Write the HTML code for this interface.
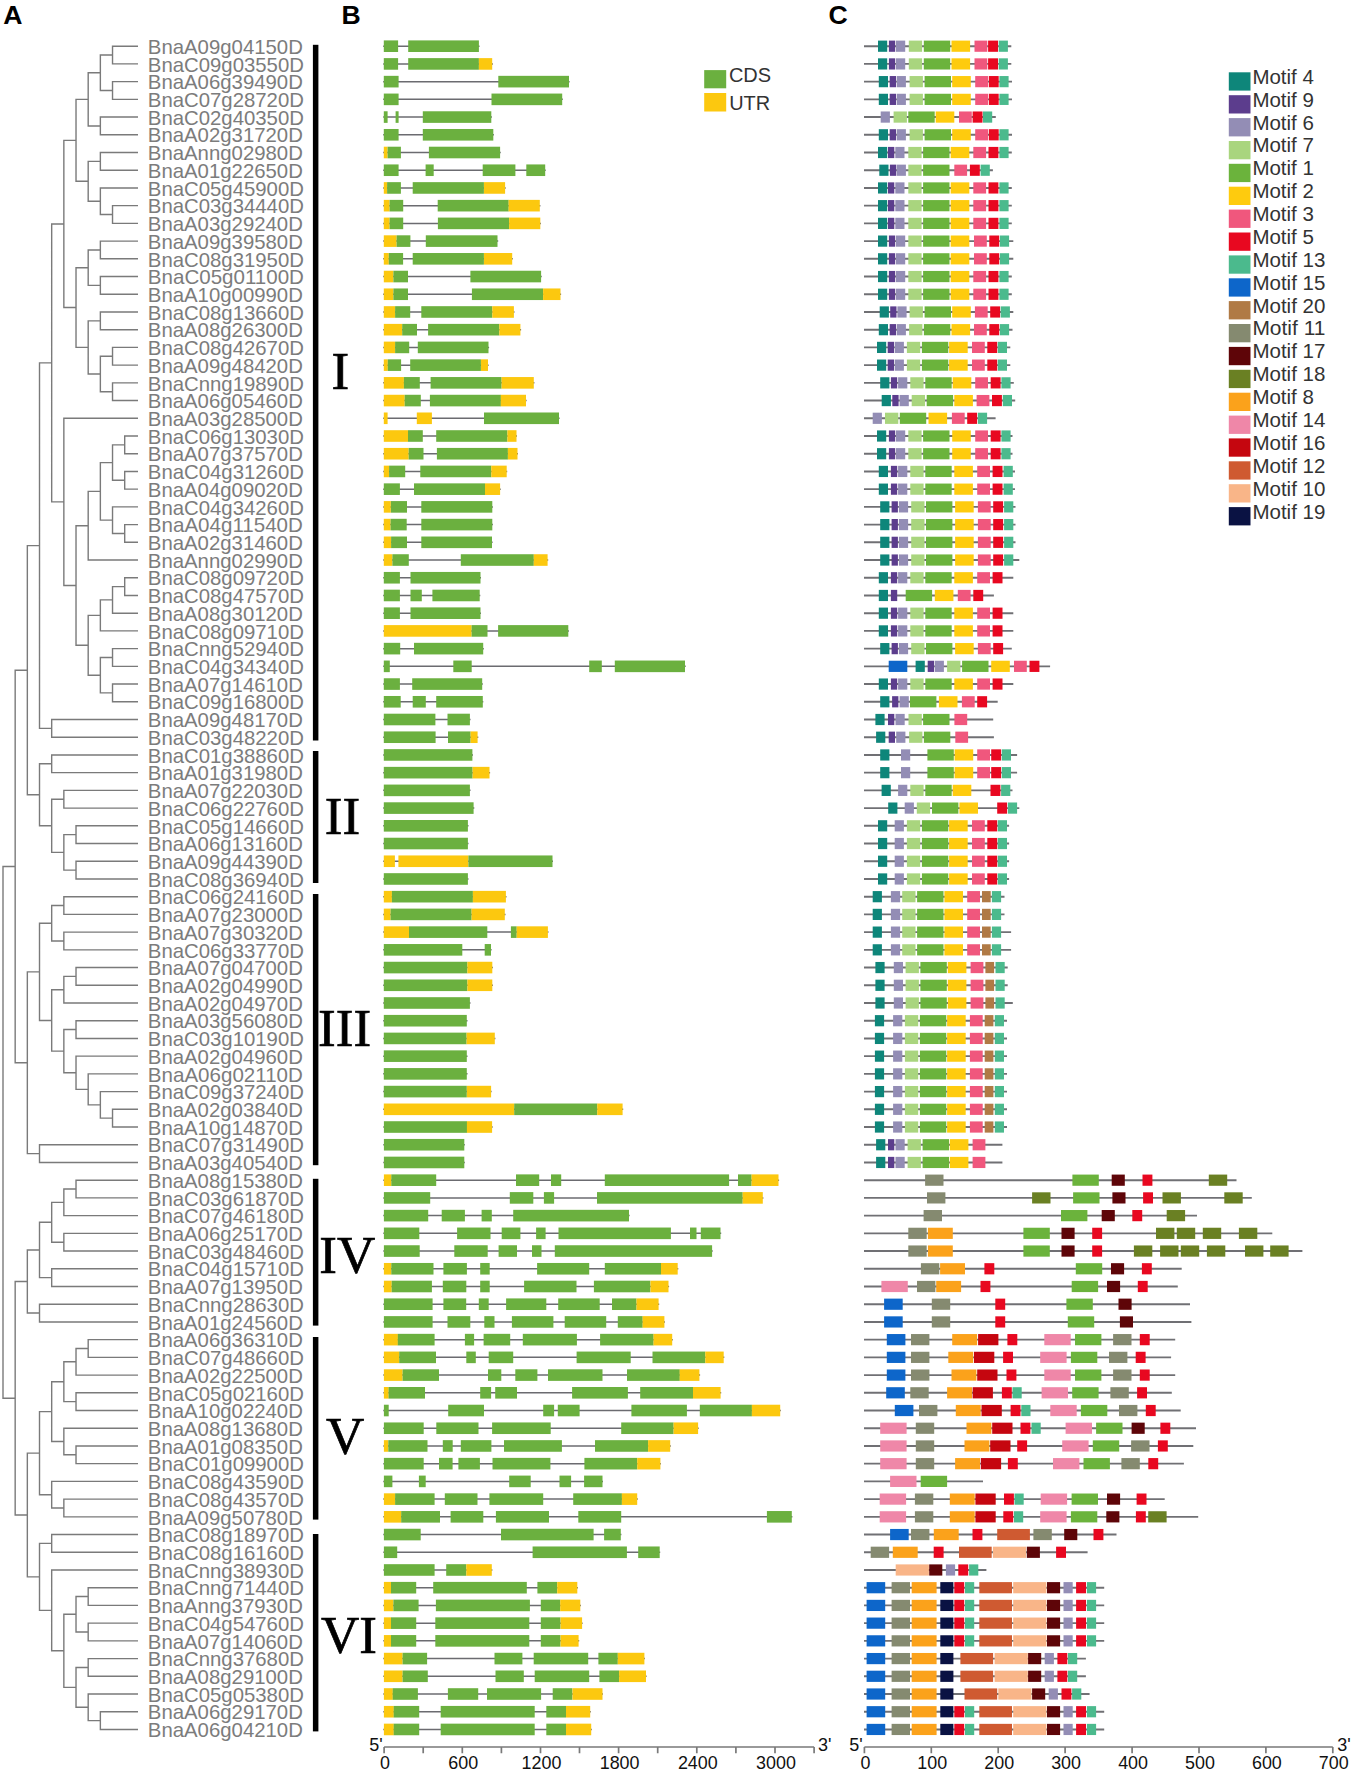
<!DOCTYPE html>
<html lang="en"><head><meta charset="utf-8"><title>Phylogeny, gene structure and motifs</title>
<style>html,body{margin:0;padding:0;background:#fff}svg{display:block}text{font-family:"Liberation Sans",Arial,Helvetica,sans-serif}.ser text{font-family:"Liberation Serif","Times New Roman",serif}</style></head><body>
<svg width="1351" height="1772" viewBox="0 0 1351 1772">
<rect width="1351" height="1772" fill="#fff"/>
<text x="3.3" y="23.8" font-size="26.6" font-weight="bold" fill="#000">A</text>
<text x="341.6" y="23.8" font-size="26.6" font-weight="bold" fill="#000">B</text>
<text x="828.5" y="23.8" font-size="26.6" font-weight="bold" fill="#000">C</text>
<path d="M112.53 46.20H137.30M112.53 63.92H137.30M112.53 46.20V63.92M100.36 55.06H112.53M112.53 81.64H137.30M112.53 99.36H137.30M112.53 81.64V99.36M100.36 90.50H112.53M100.36 55.06V90.50M88.19 72.78H100.36M100.36 117.07H137.30M100.36 134.79H137.30M100.36 117.07V134.79M88.19 125.93H100.36M88.19 72.78V125.93M76.02 99.36H88.19M100.36 152.51H137.30M100.36 170.23H137.30M100.36 152.51V170.23M88.19 161.37H100.36M100.36 187.95H137.30M112.53 205.67H137.30M112.53 223.38H137.30M112.53 205.67V223.38M100.36 214.53H112.53M100.36 187.95V214.53M88.19 201.24H100.36M88.19 161.37V201.24M76.02 181.30H88.19M76.02 99.36V181.30M63.85 140.33H76.02M100.36 241.10H137.30M100.36 258.82H137.30M100.36 241.10V258.82M88.19 249.96H100.36M100.36 276.54H137.30M100.36 294.26H137.30M100.36 276.54V294.26M88.19 285.40H100.36M88.19 249.96V285.40M76.02 267.68H88.19M100.36 311.98H137.30M100.36 329.69H137.30M100.36 311.98V329.69M88.19 320.84H100.36M112.53 347.41H137.30M112.53 365.13H137.30M112.53 347.41V365.13M100.36 356.27H112.53M112.53 382.85H137.30M112.53 400.57H137.30M112.53 382.85V400.57M100.36 391.71H112.53M100.36 356.27V391.71M88.19 373.99H100.36M88.19 320.84V373.99M76.02 347.41H88.19M76.02 267.68V347.41M63.85 307.55H76.02M63.85 140.33V307.55M51.68 223.94H63.85M63.85 418.29H137.30M124.70 436.01H137.30M124.70 453.72H137.30M124.70 436.01V453.72M112.53 444.86H124.70M124.70 471.44H137.30M124.70 489.16H137.30M124.70 471.44V489.16M112.53 480.30H124.70M112.53 444.86V480.30M100.36 462.58H112.53M112.53 506.88H137.30M124.70 524.60H137.30M124.70 542.32H137.30M124.70 524.60V542.32M112.53 533.46H124.70M112.53 506.88V533.46M100.36 520.17H112.53M100.36 462.58V520.17M88.19 491.38H100.36M88.19 560.03H137.30M88.19 491.38V560.03M76.02 525.70H88.19M124.70 577.75H137.30M124.70 595.47H137.30M124.70 577.75V595.47M112.53 586.61H124.70M112.53 613.19H137.30M112.53 586.61V613.19M100.36 599.90H112.53M100.36 630.91H137.30M100.36 599.90V630.91M88.19 615.40H100.36M112.53 648.63H137.30M112.53 666.34H137.30M112.53 648.63V666.34M100.36 657.49H112.53M112.53 684.06H137.30M112.53 701.78H137.30M112.53 684.06V701.78M100.36 692.92H112.53M100.36 657.49V692.92M88.19 675.20H100.36M88.19 615.40V675.20M76.02 645.30H88.19M76.02 525.70V645.30M63.85 585.50H76.02M63.85 418.29V585.50M51.68 501.90H63.85M51.68 223.94V501.90M39.51 362.92H51.68M51.68 719.50H137.30M51.68 737.22H137.30M51.68 719.50V737.22M39.51 728.36H51.68M39.51 362.92V728.36M27.34 545.64H39.51M51.68 754.94H137.30M51.68 772.66H137.30M51.68 754.94V772.66M39.51 763.80H51.68M63.85 790.37H137.30M63.85 808.09H137.30M63.85 790.37V808.09M51.68 799.23H63.85M76.02 825.81H137.30M76.02 843.53H137.30M76.02 825.81V843.53M63.85 834.67H76.02M76.02 861.25H137.30M76.02 878.97H137.30M76.02 861.25V878.97M63.85 870.11H76.02M63.85 834.67V870.11M51.68 852.39H63.85M51.68 799.23V852.39M39.51 825.81H51.68M39.51 763.80V825.81M27.34 794.80H39.51M27.34 545.64V794.80M15.17 670.22H27.34M63.85 896.68H137.30M63.85 914.40H137.30M63.85 896.68V914.40M51.68 905.54H63.85M63.85 932.12H137.30M63.85 949.84H137.30M63.85 932.12V949.84M51.68 940.98H63.85M51.68 905.54V940.98M39.51 923.26H51.68M76.02 967.56H137.30M76.02 985.28H137.30M76.02 967.56V985.28M63.85 976.42H76.02M63.85 1002.99H137.30M63.85 976.42V1002.99M51.68 989.71H63.85M76.02 1020.71H137.30M76.02 1038.43H137.30M76.02 1020.71V1038.43M63.85 1029.57H76.02M76.02 1056.15H137.30M88.19 1073.87H137.30M100.36 1091.59H137.30M112.53 1109.31H137.30M112.53 1127.02H137.30M112.53 1109.31V1127.02M100.36 1118.16H112.53M100.36 1091.59V1118.16M88.19 1104.88H100.36M88.19 1073.87V1104.88M76.02 1089.37H88.19M76.02 1056.15V1089.37M63.85 1072.76H76.02M63.85 1029.57V1072.76M51.68 1051.17H63.85M51.68 989.71V1051.17M39.51 1020.44H51.68M39.51 923.26V1020.44M27.34 971.85H39.51M39.51 1144.74H137.30M39.51 1162.46H137.30M39.51 1144.74V1162.46M27.34 1153.60H39.51M27.34 971.85V1153.60M15.17 1062.73H27.34M15.17 670.22V1062.73M3.00 866.47H15.17M76.02 1180.18H137.30M76.02 1197.90H137.30M76.02 1180.18V1197.90M63.85 1189.04H76.02M63.85 1215.62H137.30M63.85 1189.04V1215.62M51.68 1202.33H63.85M63.85 1233.33H137.30M63.85 1251.05H137.30M63.85 1233.33V1251.05M51.68 1242.19H63.85M51.68 1202.33V1242.19M39.51 1222.26H51.68M51.68 1268.77H137.30M51.68 1286.49H137.30M51.68 1268.77V1286.49M39.51 1277.63H51.68M39.51 1222.26V1277.63M27.34 1249.95H39.51M39.51 1304.21H137.30M39.51 1321.93H137.30M39.51 1304.21V1321.93M27.34 1313.07H39.51M27.34 1249.95V1313.07M15.17 1281.51H27.34M88.19 1339.64H137.30M88.19 1357.36H137.30M88.19 1339.64V1357.36M76.02 1348.50H88.19M76.02 1375.08H137.30M76.02 1348.50V1375.08M63.85 1361.79H76.02M76.02 1392.80H137.30M76.02 1410.52H137.30M76.02 1392.80V1410.52M63.85 1401.66H76.02M63.85 1361.79V1401.66M51.68 1381.73H63.85M63.85 1428.24H137.30M76.02 1445.96H137.30M76.02 1463.67H137.30M76.02 1445.96V1463.67M63.85 1454.81H76.02M63.85 1428.24V1454.81M51.68 1441.53H63.85M51.68 1381.73V1441.53M39.51 1411.63H51.68M51.68 1481.39H137.30M63.85 1499.11H137.30M63.85 1516.83H137.30M63.85 1499.11V1516.83M51.68 1507.97H63.85M51.68 1481.39V1507.97M39.51 1494.68H51.68M39.51 1411.63V1494.68M27.34 1453.15H39.51M51.68 1534.55H137.30M51.68 1552.27H137.30M51.68 1534.55V1552.27M39.51 1543.41H51.68M51.68 1569.98H137.30M88.19 1587.70H137.30M88.19 1605.42H137.30M88.19 1587.70V1605.42M76.02 1596.56H88.19M88.19 1623.14H137.30M88.19 1640.86H137.30M88.19 1623.14V1640.86M76.02 1632.00H88.19M76.02 1596.56V1632.00M63.85 1614.28H76.02M88.19 1658.58H137.30M88.19 1676.29H137.30M88.19 1658.58V1676.29M76.02 1667.44H88.19M88.19 1694.01H137.30M100.36 1711.73H137.30M100.36 1729.45H137.30M100.36 1711.73V1729.45M88.19 1720.59H100.36M88.19 1694.01V1720.59M76.02 1707.30H88.19M76.02 1667.44V1707.30M63.85 1687.37H76.02M63.85 1614.28V1687.37M51.68 1650.82H63.85M51.68 1569.98V1650.82M39.51 1610.40H51.68M39.51 1543.41V1610.40M27.34 1576.91H39.51M27.34 1453.15V1576.91M15.17 1515.03H27.34M15.17 1281.51V1515.03M3.00 1398.27H15.17M3.00 866.47V1398.27" fill="none" stroke="#7a7a7a" stroke-width="1.4" stroke-linecap="square"/>
<g font-size="20.2" fill="#7c7c7c">
<text x="147.85" y="53.90" textLength="155.0" lengthAdjust="spacingAndGlyphs">BnaA09g04150D</text>
<text x="147.85" y="71.62" textLength="156.1" lengthAdjust="spacingAndGlyphs">BnaC09g03550D</text>
<text x="147.85" y="89.34" textLength="155.0" lengthAdjust="spacingAndGlyphs">BnaA06g39490D</text>
<text x="147.85" y="107.06" textLength="156.1" lengthAdjust="spacingAndGlyphs">BnaC07g28720D</text>
<text x="147.85" y="124.77" textLength="156.1" lengthAdjust="spacingAndGlyphs">BnaC02g40350D</text>
<text x="147.85" y="142.49" textLength="155.0" lengthAdjust="spacingAndGlyphs">BnaA02g31720D</text>
<text x="147.85" y="160.21" textLength="155.0" lengthAdjust="spacingAndGlyphs">BnaAnng02980D</text>
<text x="147.85" y="177.93" textLength="155.0" lengthAdjust="spacingAndGlyphs">BnaA01g22650D</text>
<text x="147.85" y="195.65" textLength="156.1" lengthAdjust="spacingAndGlyphs">BnaC05g45900D</text>
<text x="147.85" y="213.37" textLength="156.1" lengthAdjust="spacingAndGlyphs">BnaC03g34440D</text>
<text x="147.85" y="231.08" textLength="155.0" lengthAdjust="spacingAndGlyphs">BnaA03g29240D</text>
<text x="147.85" y="248.80" textLength="155.0" lengthAdjust="spacingAndGlyphs">BnaA09g39580D</text>
<text x="147.85" y="266.52" textLength="156.1" lengthAdjust="spacingAndGlyphs">BnaC08g31950D</text>
<text x="147.85" y="284.24" textLength="156.1" lengthAdjust="spacingAndGlyphs">BnaC05g01100D</text>
<text x="147.85" y="301.96" textLength="155.0" lengthAdjust="spacingAndGlyphs">BnaA10g00990D</text>
<text x="147.85" y="319.68" textLength="156.1" lengthAdjust="spacingAndGlyphs">BnaC08g13660D</text>
<text x="147.85" y="337.39" textLength="155.0" lengthAdjust="spacingAndGlyphs">BnaA08g26300D</text>
<text x="147.85" y="355.11" textLength="156.1" lengthAdjust="spacingAndGlyphs">BnaC08g42670D</text>
<text x="147.85" y="372.83" textLength="155.0" lengthAdjust="spacingAndGlyphs">BnaA09g48420D</text>
<text x="147.85" y="390.55" textLength="156.1" lengthAdjust="spacingAndGlyphs">BnaCnng19890D</text>
<text x="147.85" y="408.27" textLength="155.0" lengthAdjust="spacingAndGlyphs">BnaA06g05460D</text>
<text x="147.85" y="425.99" textLength="155.0" lengthAdjust="spacingAndGlyphs">BnaA03g28500D</text>
<text x="147.85" y="443.71" textLength="156.1" lengthAdjust="spacingAndGlyphs">BnaC06g13030D</text>
<text x="147.85" y="461.42" textLength="155.0" lengthAdjust="spacingAndGlyphs">BnaA07g37570D</text>
<text x="147.85" y="479.14" textLength="156.1" lengthAdjust="spacingAndGlyphs">BnaC04g31260D</text>
<text x="147.85" y="496.86" textLength="155.0" lengthAdjust="spacingAndGlyphs">BnaA04g09020D</text>
<text x="147.85" y="514.58" textLength="156.1" lengthAdjust="spacingAndGlyphs">BnaC04g34260D</text>
<text x="147.85" y="532.30" textLength="155.0" lengthAdjust="spacingAndGlyphs">BnaA04g11540D</text>
<text x="147.85" y="550.02" textLength="155.0" lengthAdjust="spacingAndGlyphs">BnaA02g31460D</text>
<text x="147.85" y="567.73" textLength="155.0" lengthAdjust="spacingAndGlyphs">BnaAnng02990D</text>
<text x="147.85" y="585.45" textLength="156.1" lengthAdjust="spacingAndGlyphs">BnaC08g09720D</text>
<text x="147.85" y="603.17" textLength="156.1" lengthAdjust="spacingAndGlyphs">BnaC08g47570D</text>
<text x="147.85" y="620.89" textLength="155.0" lengthAdjust="spacingAndGlyphs">BnaA08g30120D</text>
<text x="147.85" y="638.61" textLength="156.1" lengthAdjust="spacingAndGlyphs">BnaC08g09710D</text>
<text x="147.85" y="656.33" textLength="156.1" lengthAdjust="spacingAndGlyphs">BnaCnng52940D</text>
<text x="147.85" y="674.04" textLength="156.1" lengthAdjust="spacingAndGlyphs">BnaC04g34340D</text>
<text x="147.85" y="691.76" textLength="155.0" lengthAdjust="spacingAndGlyphs">BnaA07g14610D</text>
<text x="147.85" y="709.48" textLength="156.1" lengthAdjust="spacingAndGlyphs">BnaC09g16800D</text>
<text x="147.85" y="727.20" textLength="155.0" lengthAdjust="spacingAndGlyphs">BnaA09g48170D</text>
<text x="147.85" y="744.92" textLength="156.1" lengthAdjust="spacingAndGlyphs">BnaC03g48220D</text>
<text x="147.85" y="762.64" textLength="156.1" lengthAdjust="spacingAndGlyphs">BnaC01g38860D</text>
<text x="147.85" y="780.36" textLength="155.0" lengthAdjust="spacingAndGlyphs">BnaA01g31980D</text>
<text x="147.85" y="798.07" textLength="155.0" lengthAdjust="spacingAndGlyphs">BnaA07g22030D</text>
<text x="147.85" y="815.79" textLength="156.1" lengthAdjust="spacingAndGlyphs">BnaC06g22760D</text>
<text x="147.85" y="833.51" textLength="156.1" lengthAdjust="spacingAndGlyphs">BnaC05g14660D</text>
<text x="147.85" y="851.23" textLength="155.0" lengthAdjust="spacingAndGlyphs">BnaA06g13160D</text>
<text x="147.85" y="868.95" textLength="155.0" lengthAdjust="spacingAndGlyphs">BnaA09g44390D</text>
<text x="147.85" y="886.67" textLength="156.1" lengthAdjust="spacingAndGlyphs">BnaC08g36940D</text>
<text x="147.85" y="904.38" textLength="156.1" lengthAdjust="spacingAndGlyphs">BnaC06g24160D</text>
<text x="147.85" y="922.10" textLength="155.0" lengthAdjust="spacingAndGlyphs">BnaA07g23000D</text>
<text x="147.85" y="939.82" textLength="155.0" lengthAdjust="spacingAndGlyphs">BnaA07g30320D</text>
<text x="147.85" y="957.54" textLength="156.1" lengthAdjust="spacingAndGlyphs">BnaC06g33770D</text>
<text x="147.85" y="975.26" textLength="155.0" lengthAdjust="spacingAndGlyphs">BnaA07g04700D</text>
<text x="147.85" y="992.98" textLength="155.0" lengthAdjust="spacingAndGlyphs">BnaA02g04990D</text>
<text x="147.85" y="1010.69" textLength="155.0" lengthAdjust="spacingAndGlyphs">BnaA02g04970D</text>
<text x="147.85" y="1028.41" textLength="155.0" lengthAdjust="spacingAndGlyphs">BnaA03g56080D</text>
<text x="147.85" y="1046.13" textLength="156.1" lengthAdjust="spacingAndGlyphs">BnaC03g10190D</text>
<text x="147.85" y="1063.85" textLength="155.0" lengthAdjust="spacingAndGlyphs">BnaA02g04960D</text>
<text x="147.85" y="1081.57" textLength="155.0" lengthAdjust="spacingAndGlyphs">BnaA06g02110D</text>
<text x="147.85" y="1099.29" textLength="156.1" lengthAdjust="spacingAndGlyphs">BnaC09g37240D</text>
<text x="147.85" y="1117.01" textLength="155.0" lengthAdjust="spacingAndGlyphs">BnaA02g03840D</text>
<text x="147.85" y="1134.72" textLength="155.0" lengthAdjust="spacingAndGlyphs">BnaA10g14870D</text>
<text x="147.85" y="1152.44" textLength="156.1" lengthAdjust="spacingAndGlyphs">BnaC07g31490D</text>
<text x="147.85" y="1170.16" textLength="155.0" lengthAdjust="spacingAndGlyphs">BnaA03g40540D</text>
<text x="147.85" y="1187.88" textLength="155.0" lengthAdjust="spacingAndGlyphs">BnaA08g15380D</text>
<text x="147.85" y="1205.60" textLength="156.1" lengthAdjust="spacingAndGlyphs">BnaC03g61870D</text>
<text x="147.85" y="1223.32" textLength="156.1" lengthAdjust="spacingAndGlyphs">BnaC07g46180D</text>
<text x="147.85" y="1241.03" textLength="155.0" lengthAdjust="spacingAndGlyphs">BnaA06g25170D</text>
<text x="147.85" y="1258.75" textLength="156.1" lengthAdjust="spacingAndGlyphs">BnaC03g48460D</text>
<text x="147.85" y="1276.47" textLength="156.1" lengthAdjust="spacingAndGlyphs">BnaC04g15710D</text>
<text x="147.85" y="1294.19" textLength="155.0" lengthAdjust="spacingAndGlyphs">BnaA07g13950D</text>
<text x="147.85" y="1311.91" textLength="156.1" lengthAdjust="spacingAndGlyphs">BnaCnng28630D</text>
<text x="147.85" y="1329.63" textLength="155.0" lengthAdjust="spacingAndGlyphs">BnaA01g24560D</text>
<text x="147.85" y="1347.34" textLength="155.0" lengthAdjust="spacingAndGlyphs">BnaA06g36310D</text>
<text x="147.85" y="1365.06" textLength="156.1" lengthAdjust="spacingAndGlyphs">BnaC07g48660D</text>
<text x="147.85" y="1382.78" textLength="155.0" lengthAdjust="spacingAndGlyphs">BnaA02g22500D</text>
<text x="147.85" y="1400.50" textLength="156.1" lengthAdjust="spacingAndGlyphs">BnaC05g02160D</text>
<text x="147.85" y="1418.22" textLength="155.0" lengthAdjust="spacingAndGlyphs">BnaA10g02240D</text>
<text x="147.85" y="1435.94" textLength="155.0" lengthAdjust="spacingAndGlyphs">BnaA08g13680D</text>
<text x="147.85" y="1453.66" textLength="155.0" lengthAdjust="spacingAndGlyphs">BnaA01g08350D</text>
<text x="147.85" y="1471.37" textLength="156.1" lengthAdjust="spacingAndGlyphs">BnaC01g09900D</text>
<text x="147.85" y="1489.09" textLength="156.1" lengthAdjust="spacingAndGlyphs">BnaC08g43590D</text>
<text x="147.85" y="1506.81" textLength="156.1" lengthAdjust="spacingAndGlyphs">BnaC08g43570D</text>
<text x="147.85" y="1524.53" textLength="155.0" lengthAdjust="spacingAndGlyphs">BnaA09g50780D</text>
<text x="147.85" y="1542.25" textLength="156.1" lengthAdjust="spacingAndGlyphs">BnaC08g18970D</text>
<text x="147.85" y="1559.97" textLength="156.1" lengthAdjust="spacingAndGlyphs">BnaC08g16160D</text>
<text x="147.85" y="1577.68" textLength="156.1" lengthAdjust="spacingAndGlyphs">BnaCnng38930D</text>
<text x="147.85" y="1595.40" textLength="156.1" lengthAdjust="spacingAndGlyphs">BnaCnng71440D</text>
<text x="147.85" y="1613.12" textLength="155.0" lengthAdjust="spacingAndGlyphs">BnaAnng37930D</text>
<text x="147.85" y="1630.84" textLength="156.1" lengthAdjust="spacingAndGlyphs">BnaC04g54760D</text>
<text x="147.85" y="1648.56" textLength="155.0" lengthAdjust="spacingAndGlyphs">BnaA07g14060D</text>
<text x="147.85" y="1666.28" textLength="156.1" lengthAdjust="spacingAndGlyphs">BnaCnng37680D</text>
<text x="147.85" y="1683.99" textLength="155.0" lengthAdjust="spacingAndGlyphs">BnaA08g29100D</text>
<text x="147.85" y="1701.71" textLength="156.1" lengthAdjust="spacingAndGlyphs">BnaC05g05380D</text>
<text x="147.85" y="1719.43" textLength="155.0" lengthAdjust="spacingAndGlyphs">BnaA06g29170D</text>
<text x="147.85" y="1737.15" textLength="155.0" lengthAdjust="spacingAndGlyphs">BnaA06g04210D</text>
</g>
<rect x="312.9" y="44.8" width="5.5" height="695.7" fill="#000"/>
<rect x="312.9" y="751.0" width="5.5" height="132.0" fill="#000"/>
<rect x="312.9" y="894.0" width="5.5" height="271.2" fill="#000"/>
<rect x="312.9" y="1178.8" width="5.5" height="146.8" fill="#000"/>
<rect x="312.9" y="1337.0" width="5.5" height="182.6" fill="#000"/>
<rect x="312.9" y="1534.0" width="5.5" height="197.4" fill="#000"/>
<g class="ser" font-size="53" fill="#000" stroke="#000" stroke-width="0.7" text-anchor="middle">
<text x="340.3" y="389.0">I</text>
<text x="342.4" y="833.5">II</text>
<text x="344.6" y="1046.0">III</text>
<text x="347.3" y="1272.9">IV</text>
<text x="345.2" y="1454.2">V</text>
<text x="349.0" y="1652.8">VI</text>
</g>
<g>
<path d="M383.2 46.20H479.5" stroke="#6b6b70" stroke-width="1.5"/>
<rect x="383.8" y="40.40" width="14.3" height="11.6" fill="#6bb03f"/>
<rect x="408.2" y="40.40" width="70.7" height="11.6" fill="#6bb03f"/>
<path d="M383.2 63.92H492.9" stroke="#6b6b70" stroke-width="1.5"/>
<rect x="383.8" y="58.12" width="14.3" height="11.6" fill="#6bb03f"/>
<rect x="408.2" y="58.12" width="70.7" height="11.6" fill="#6bb03f"/>
<rect x="478.9" y="58.12" width="13.3" height="11.6" fill="#fcc80f"/>
<path d="M383.2 81.64H569.6" stroke="#6b6b70" stroke-width="1.5"/>
<rect x="383.8" y="75.84" width="14.8" height="11.6" fill="#6bb03f"/>
<rect x="498.3" y="75.84" width="70.7" height="11.6" fill="#6bb03f"/>
<path d="M383.2 99.36H562.8" stroke="#6b6b70" stroke-width="1.5"/>
<rect x="383.8" y="93.56" width="14.8" height="11.6" fill="#6bb03f"/>
<rect x="491.5" y="93.56" width="70.7" height="11.6" fill="#6bb03f"/>
<path d="M383.2 117.07H491.9" stroke="#6b6b70" stroke-width="1.5"/>
<rect x="383.8" y="111.27" width="3.8" height="11.6" fill="#6bb03f"/>
<rect x="395.6" y="111.27" width="3.0" height="11.6" fill="#6bb03f"/>
<rect x="422.8" y="111.27" width="68.5" height="11.6" fill="#6bb03f"/>
<path d="M383.2 134.79H493.9" stroke="#6b6b70" stroke-width="1.5"/>
<rect x="383.8" y="128.99" width="14.8" height="11.6" fill="#6bb03f"/>
<rect x="422.8" y="128.99" width="70.5" height="11.6" fill="#6bb03f"/>
<path d="M383.2 152.51H500.7" stroke="#6b6b70" stroke-width="1.5"/>
<rect x="383.8" y="146.71" width="3.8" height="11.6" fill="#fcc80f"/>
<rect x="387.6" y="146.71" width="13.3" height="11.6" fill="#6bb03f"/>
<rect x="428.9" y="146.71" width="71.2" height="11.6" fill="#6bb03f"/>
<path d="M383.2 170.23H545.7" stroke="#6b6b70" stroke-width="1.5"/>
<rect x="383.8" y="164.43" width="14.8" height="11.6" fill="#6bb03f"/>
<rect x="425.6" y="164.43" width="8.1" height="11.6" fill="#6bb03f"/>
<rect x="482.7" y="164.43" width="32.7" height="11.6" fill="#6bb03f"/>
<rect x="526.3" y="164.43" width="18.9" height="11.6" fill="#6bb03f"/>
<path d="M383.2 187.95H505.7" stroke="#6b6b70" stroke-width="1.5"/>
<rect x="383.8" y="182.15" width="3.3" height="11.6" fill="#fcc80f"/>
<rect x="387.1" y="182.15" width="13.8" height="11.6" fill="#6bb03f"/>
<rect x="412.7" y="182.15" width="71.2" height="11.6" fill="#6bb03f"/>
<rect x="484.0" y="182.15" width="21.1" height="11.6" fill="#fcc80f"/>
<path d="M383.2 205.67H540.4" stroke="#6b6b70" stroke-width="1.5"/>
<rect x="383.8" y="199.87" width="5.8" height="11.6" fill="#fcc80f"/>
<rect x="389.6" y="199.87" width="13.6" height="11.6" fill="#6bb03f"/>
<rect x="437.7" y="199.87" width="71.0" height="11.6" fill="#6bb03f"/>
<rect x="508.6" y="199.87" width="31.2" height="11.6" fill="#fcc80f"/>
<path d="M383.2 223.38H540.9" stroke="#6b6b70" stroke-width="1.5"/>
<rect x="383.8" y="217.58" width="5.8" height="11.6" fill="#fcc80f"/>
<rect x="389.6" y="217.58" width="13.6" height="11.6" fill="#6bb03f"/>
<rect x="437.9" y="217.58" width="71.2" height="11.6" fill="#6bb03f"/>
<rect x="509.1" y="217.58" width="31.2" height="11.6" fill="#fcc80f"/>
<path d="M383.2 241.10H498.2" stroke="#6b6b70" stroke-width="1.5"/>
<rect x="383.8" y="235.30" width="12.8" height="11.6" fill="#fcc80f"/>
<rect x="396.6" y="235.30" width="13.8" height="11.6" fill="#6bb03f"/>
<rect x="425.8" y="235.30" width="71.7" height="11.6" fill="#6bb03f"/>
<path d="M383.2 258.82H512.8" stroke="#6b6b70" stroke-width="1.5"/>
<rect x="383.8" y="253.02" width="5.0" height="11.6" fill="#fcc80f"/>
<rect x="388.8" y="253.02" width="14.3" height="11.6" fill="#6bb03f"/>
<rect x="412.7" y="253.02" width="71.2" height="11.6" fill="#6bb03f"/>
<rect x="484.0" y="253.02" width="28.2" height="11.6" fill="#fcc80f"/>
<path d="M383.2 276.54H541.7" stroke="#6b6b70" stroke-width="1.5"/>
<rect x="383.8" y="270.74" width="9.6" height="11.6" fill="#fcc80f"/>
<rect x="393.4" y="270.74" width="14.6" height="11.6" fill="#6bb03f"/>
<rect x="470.4" y="270.74" width="70.7" height="11.6" fill="#6bb03f"/>
<path d="M383.2 294.26H561.1" stroke="#6b6b70" stroke-width="1.5"/>
<rect x="383.8" y="288.46" width="9.6" height="11.6" fill="#fcc80f"/>
<rect x="393.4" y="288.46" width="14.6" height="11.6" fill="#6bb03f"/>
<rect x="471.9" y="288.46" width="71.2" height="11.6" fill="#6bb03f"/>
<rect x="543.1" y="288.46" width="17.4" height="11.6" fill="#fcc80f"/>
<path d="M383.2 311.98H514.5" stroke="#6b6b70" stroke-width="1.5"/>
<rect x="383.8" y="306.18" width="11.3" height="11.6" fill="#fcc80f"/>
<rect x="395.1" y="306.18" width="15.1" height="11.6" fill="#6bb03f"/>
<rect x="421.3" y="306.18" width="71.0" height="11.6" fill="#6bb03f"/>
<rect x="492.3" y="306.18" width="21.6" height="11.6" fill="#fcc80f"/>
<path d="M383.2 329.69H521.1" stroke="#6b6b70" stroke-width="1.5"/>
<rect x="383.8" y="323.89" width="18.4" height="11.6" fill="#fcc80f"/>
<rect x="402.2" y="323.89" width="14.8" height="11.6" fill="#6bb03f"/>
<rect x="428.1" y="323.89" width="71.2" height="11.6" fill="#6bb03f"/>
<rect x="499.3" y="323.89" width="21.1" height="11.6" fill="#fcc80f"/>
<path d="M383.2 347.41H489.1" stroke="#6b6b70" stroke-width="1.5"/>
<rect x="383.8" y="341.61" width="11.3" height="11.6" fill="#fcc80f"/>
<rect x="395.1" y="341.61" width="14.1" height="11.6" fill="#6bb03f"/>
<rect x="417.8" y="341.61" width="70.7" height="11.6" fill="#6bb03f"/>
<path d="M383.2 365.13H488.6" stroke="#6b6b70" stroke-width="1.5"/>
<rect x="383.8" y="359.33" width="4.0" height="11.6" fill="#fcc80f"/>
<rect x="387.8" y="359.33" width="13.3" height="11.6" fill="#6bb03f"/>
<rect x="410.2" y="359.33" width="70.7" height="11.6" fill="#6bb03f"/>
<rect x="481.0" y="359.33" width="7.0" height="11.6" fill="#fcc80f"/>
<path d="M383.2 382.85H534.4" stroke="#6b6b70" stroke-width="1.5"/>
<rect x="383.8" y="377.05" width="20.1" height="11.6" fill="#fcc80f"/>
<rect x="403.9" y="377.05" width="15.9" height="11.6" fill="#6bb03f"/>
<rect x="430.6" y="377.05" width="71.0" height="11.6" fill="#6bb03f"/>
<rect x="501.6" y="377.05" width="32.2" height="11.6" fill="#fcc80f"/>
<path d="M383.2 400.57H526.6" stroke="#6b6b70" stroke-width="1.5"/>
<rect x="383.8" y="394.77" width="20.9" height="11.6" fill="#fcc80f"/>
<rect x="404.7" y="394.77" width="16.1" height="11.6" fill="#6bb03f"/>
<rect x="429.9" y="394.77" width="71.0" height="11.6" fill="#6bb03f"/>
<rect x="500.8" y="394.77" width="25.2" height="11.6" fill="#fcc80f"/>
<path d="M383.2 418.29H559.6" stroke="#6b6b70" stroke-width="1.5"/>
<rect x="383.8" y="412.49" width="3.8" height="11.6" fill="#fcc80f"/>
<rect x="416.8" y="412.49" width="15.1" height="11.6" fill="#fcc80f"/>
<rect x="484.0" y="412.49" width="75.0" height="11.6" fill="#6bb03f"/>
<path d="M383.2 436.01H517.0" stroke="#6b6b70" stroke-width="1.5"/>
<rect x="383.8" y="430.21" width="24.2" height="11.6" fill="#fcc80f"/>
<rect x="408.0" y="430.21" width="14.8" height="11.6" fill="#6bb03f"/>
<rect x="436.2" y="430.21" width="71.2" height="11.6" fill="#6bb03f"/>
<rect x="507.4" y="430.21" width="9.1" height="11.6" fill="#fcc80f"/>
<path d="M383.2 453.72H518.0" stroke="#6b6b70" stroke-width="1.5"/>
<rect x="383.8" y="447.92" width="24.9" height="11.6" fill="#fcc80f"/>
<rect x="408.7" y="447.92" width="14.8" height="11.6" fill="#6bb03f"/>
<rect x="436.9" y="447.92" width="71.0" height="11.6" fill="#6bb03f"/>
<rect x="507.9" y="447.92" width="9.6" height="11.6" fill="#fcc80f"/>
<path d="M383.2 471.44H507.2" stroke="#6b6b70" stroke-width="1.5"/>
<rect x="383.8" y="465.64" width="5.3" height="11.6" fill="#fcc80f"/>
<rect x="389.1" y="465.64" width="16.1" height="11.6" fill="#6bb03f"/>
<rect x="420.3" y="465.64" width="71.0" height="11.6" fill="#6bb03f"/>
<rect x="491.3" y="465.64" width="15.4" height="11.6" fill="#fcc80f"/>
<path d="M383.2 489.16H500.7" stroke="#6b6b70" stroke-width="1.5"/>
<rect x="383.8" y="483.36" width="16.1" height="11.6" fill="#6bb03f"/>
<rect x="414.0" y="483.36" width="71.0" height="11.6" fill="#6bb03f"/>
<rect x="485.0" y="483.36" width="15.1" height="11.6" fill="#fcc80f"/>
<path d="M383.2 506.88H492.9" stroke="#6b6b70" stroke-width="1.5"/>
<rect x="383.8" y="501.08" width="7.0" height="11.6" fill="#fcc80f"/>
<rect x="390.9" y="501.08" width="16.1" height="11.6" fill="#6bb03f"/>
<rect x="421.3" y="501.08" width="71.0" height="11.6" fill="#6bb03f"/>
<path d="M383.2 524.60H492.9" stroke="#6b6b70" stroke-width="1.5"/>
<rect x="383.8" y="518.80" width="6.8" height="11.6" fill="#fcc80f"/>
<rect x="390.6" y="518.80" width="16.1" height="11.6" fill="#6bb03f"/>
<rect x="421.3" y="518.80" width="71.0" height="11.6" fill="#6bb03f"/>
<path d="M383.2 542.32H492.6" stroke="#6b6b70" stroke-width="1.5"/>
<rect x="383.8" y="536.52" width="7.3" height="11.6" fill="#fcc80f"/>
<rect x="391.1" y="536.52" width="15.9" height="11.6" fill="#6bb03f"/>
<rect x="421.3" y="536.52" width="70.7" height="11.6" fill="#6bb03f"/>
<path d="M383.2 560.03H548.2" stroke="#6b6b70" stroke-width="1.5"/>
<rect x="383.8" y="554.23" width="8.6" height="11.6" fill="#fcc80f"/>
<rect x="392.4" y="554.23" width="16.4" height="11.6" fill="#6bb03f"/>
<rect x="460.8" y="554.23" width="73.0" height="11.6" fill="#6bb03f"/>
<rect x="533.8" y="554.23" width="13.8" height="11.6" fill="#fcc80f"/>
<path d="M383.2 577.75H481.0" stroke="#6b6b70" stroke-width="1.5"/>
<rect x="383.8" y="571.95" width="16.1" height="11.6" fill="#6bb03f"/>
<rect x="410.5" y="571.95" width="70.0" height="11.6" fill="#6bb03f"/>
<path d="M383.2 595.47H480.3" stroke="#6b6b70" stroke-width="1.5"/>
<rect x="383.8" y="589.67" width="16.1" height="11.6" fill="#6bb03f"/>
<rect x="410.5" y="589.67" width="11.3" height="11.6" fill="#6bb03f"/>
<rect x="432.4" y="589.67" width="47.3" height="11.6" fill="#6bb03f"/>
<path d="M383.2 613.19H481.0" stroke="#6b6b70" stroke-width="1.5"/>
<rect x="383.8" y="607.39" width="16.1" height="11.6" fill="#6bb03f"/>
<rect x="410.5" y="607.39" width="70.0" height="11.6" fill="#6bb03f"/>
<path d="M383.2 630.91H568.9" stroke="#6b6b70" stroke-width="1.5"/>
<rect x="383.8" y="625.11" width="87.8" height="11.6" fill="#fcc80f"/>
<rect x="471.6" y="625.11" width="15.9" height="11.6" fill="#6bb03f"/>
<rect x="498.1" y="625.11" width="70.2" height="11.6" fill="#6bb03f"/>
<path d="M383.2 648.63H483.8" stroke="#6b6b70" stroke-width="1.5"/>
<rect x="383.8" y="642.83" width="16.4" height="11.6" fill="#6bb03f"/>
<rect x="414.0" y="642.83" width="69.2" height="11.6" fill="#6bb03f"/>
<path d="M383.2 666.34H685.7" stroke="#6b6b70" stroke-width="1.5"/>
<rect x="383.8" y="660.54" width="6.0" height="11.6" fill="#6bb03f"/>
<rect x="453.3" y="660.54" width="18.4" height="11.6" fill="#6bb03f"/>
<rect x="589.2" y="660.54" width="12.6" height="11.6" fill="#6bb03f"/>
<rect x="614.8" y="660.54" width="70.2" height="11.6" fill="#6bb03f"/>
<path d="M383.2 684.06H482.8" stroke="#6b6b70" stroke-width="1.5"/>
<rect x="383.8" y="678.26" width="16.1" height="11.6" fill="#6bb03f"/>
<rect x="412.2" y="678.26" width="70.0" height="11.6" fill="#6bb03f"/>
<path d="M383.2 701.78H483.3" stroke="#6b6b70" stroke-width="1.5"/>
<rect x="383.8" y="695.98" width="16.9" height="11.6" fill="#6bb03f"/>
<rect x="412.7" y="695.98" width="13.1" height="11.6" fill="#6bb03f"/>
<rect x="436.2" y="695.98" width="46.6" height="11.6" fill="#6bb03f"/>
<path d="M383.2 719.50H470.5" stroke="#6b6b70" stroke-width="1.5"/>
<rect x="383.8" y="713.70" width="51.6" height="11.6" fill="#6bb03f"/>
<rect x="447.5" y="713.70" width="22.4" height="11.6" fill="#6bb03f"/>
<path d="M383.2 737.22H478.3" stroke="#6b6b70" stroke-width="1.5"/>
<rect x="383.8" y="731.42" width="51.8" height="11.6" fill="#6bb03f"/>
<rect x="448.0" y="731.42" width="22.6" height="11.6" fill="#6bb03f"/>
<rect x="470.6" y="731.42" width="7.0" height="11.6" fill="#fcc80f"/>
<path d="M383.2 754.94H473.0" stroke="#6b6b70" stroke-width="1.5"/>
<rect x="383.8" y="749.14" width="88.6" height="11.6" fill="#6bb03f"/>
<path d="M383.2 772.66H490.1" stroke="#6b6b70" stroke-width="1.5"/>
<rect x="383.8" y="766.86" width="88.8" height="11.6" fill="#6bb03f"/>
<rect x="472.6" y="766.86" width="16.9" height="11.6" fill="#fcc80f"/>
<path d="M383.2 790.37H470.5" stroke="#6b6b70" stroke-width="1.5"/>
<rect x="383.8" y="784.57" width="86.1" height="11.6" fill="#6bb03f"/>
<path d="M383.2 808.09H474.3" stroke="#6b6b70" stroke-width="1.5"/>
<rect x="383.8" y="802.29" width="89.8" height="11.6" fill="#6bb03f"/>
<path d="M383.2 825.81H468.5" stroke="#6b6b70" stroke-width="1.5"/>
<rect x="383.8" y="820.01" width="84.1" height="11.6" fill="#6bb03f"/>
<path d="M383.2 843.53H468.5" stroke="#6b6b70" stroke-width="1.5"/>
<rect x="383.8" y="837.73" width="84.1" height="11.6" fill="#6bb03f"/>
<path d="M383.2 861.25H553.0" stroke="#6b6b70" stroke-width="1.5"/>
<rect x="383.8" y="855.45" width="11.1" height="11.6" fill="#fcc80f"/>
<rect x="398.4" y="855.45" width="70.0" height="11.6" fill="#fcc80f"/>
<rect x="468.4" y="855.45" width="84.1" height="11.6" fill="#6bb03f"/>
<path d="M383.2 878.97H468.5" stroke="#6b6b70" stroke-width="1.5"/>
<rect x="383.8" y="873.17" width="84.1" height="11.6" fill="#6bb03f"/>
<path d="M383.2 896.68H506.5" stroke="#6b6b70" stroke-width="1.5"/>
<rect x="383.8" y="890.88" width="8.1" height="11.6" fill="#fcc80f"/>
<rect x="391.9" y="890.88" width="81.0" height="11.6" fill="#6bb03f"/>
<rect x="472.9" y="890.88" width="33.0" height="11.6" fill="#fcc80f"/>
<path d="M383.2 914.40H505.5" stroke="#6b6b70" stroke-width="1.5"/>
<rect x="383.8" y="908.60" width="6.8" height="11.6" fill="#fcc80f"/>
<rect x="390.6" y="908.60" width="81.0" height="11.6" fill="#6bb03f"/>
<rect x="471.6" y="908.60" width="33.2" height="11.6" fill="#fcc80f"/>
<path d="M383.2 932.12H548.5" stroke="#6b6b70" stroke-width="1.5"/>
<rect x="383.8" y="926.32" width="25.2" height="11.6" fill="#fcc80f"/>
<rect x="409.0" y="926.32" width="78.3" height="11.6" fill="#6bb03f"/>
<rect x="510.9" y="926.32" width="5.8" height="11.6" fill="#6bb03f"/>
<rect x="516.7" y="926.32" width="31.2" height="11.6" fill="#fcc80f"/>
<path d="M383.2 949.84H491.6" stroke="#6b6b70" stroke-width="1.5"/>
<rect x="383.8" y="944.04" width="78.5" height="11.6" fill="#6bb03f"/>
<rect x="484.7" y="944.04" width="6.3" height="11.6" fill="#6bb03f"/>
<path d="M383.2 967.56H492.9" stroke="#6b6b70" stroke-width="1.5"/>
<rect x="383.8" y="961.76" width="83.6" height="11.6" fill="#6bb03f"/>
<rect x="467.4" y="961.76" width="24.9" height="11.6" fill="#fcc80f"/>
<path d="M383.2 985.28H492.9" stroke="#6b6b70" stroke-width="1.5"/>
<rect x="383.8" y="979.48" width="83.6" height="11.6" fill="#6bb03f"/>
<rect x="467.4" y="979.48" width="24.9" height="11.6" fill="#fcc80f"/>
<path d="M383.2 1002.99H470.5" stroke="#6b6b70" stroke-width="1.5"/>
<rect x="383.8" y="997.19" width="86.1" height="11.6" fill="#6bb03f"/>
<path d="M383.2 1020.71H467.5" stroke="#6b6b70" stroke-width="1.5"/>
<rect x="383.8" y="1014.91" width="83.0" height="11.6" fill="#6bb03f"/>
<path d="M383.2 1038.43H495.4" stroke="#6b6b70" stroke-width="1.5"/>
<rect x="383.8" y="1032.63" width="82.8" height="11.6" fill="#6bb03f"/>
<rect x="466.6" y="1032.63" width="28.2" height="11.6" fill="#fcc80f"/>
<path d="M383.2 1056.15H467.5" stroke="#6b6b70" stroke-width="1.5"/>
<rect x="383.8" y="1050.35" width="83.0" height="11.6" fill="#6bb03f"/>
<path d="M383.2 1073.87H467.5" stroke="#6b6b70" stroke-width="1.5"/>
<rect x="383.8" y="1068.07" width="83.0" height="11.6" fill="#6bb03f"/>
<path d="M383.2 1091.59H491.6" stroke="#6b6b70" stroke-width="1.5"/>
<rect x="383.8" y="1085.79" width="83.0" height="11.6" fill="#6bb03f"/>
<rect x="466.9" y="1085.79" width="24.2" height="11.6" fill="#fcc80f"/>
<path d="M383.2 1109.31H623.2" stroke="#6b6b70" stroke-width="1.5"/>
<rect x="383.8" y="1103.51" width="130.4" height="11.6" fill="#fcc80f"/>
<rect x="514.2" y="1103.51" width="83.0" height="11.6" fill="#6bb03f"/>
<rect x="597.2" y="1103.51" width="25.4" height="11.6" fill="#fcc80f"/>
<path d="M383.3 1127.02H492.7" stroke="#6b6b70" stroke-width="1.5"/>
<rect x="383.9" y="1121.22" width="83.1" height="11.6" fill="#6bb03f"/>
<rect x="466.9" y="1121.22" width="25.2" height="11.6" fill="#fcc80f"/>
<path d="M383.3 1144.74H464.8" stroke="#6b6b70" stroke-width="1.5"/>
<rect x="383.9" y="1138.94" width="80.4" height="11.6" fill="#6bb03f"/>
<path d="M383.3 1162.46H464.8" stroke="#6b6b70" stroke-width="1.5"/>
<rect x="383.9" y="1156.66" width="80.4" height="11.6" fill="#6bb03f"/>
<path d="M383.3 1180.18H779.1" stroke="#6b6b70" stroke-width="1.5"/>
<rect x="383.9" y="1174.38" width="7.5" height="11.6" fill="#fcc80f"/>
<rect x="391.3" y="1174.38" width="44.9" height="11.6" fill="#6bb03f"/>
<rect x="516.0" y="1174.38" width="23.2" height="11.6" fill="#6bb03f"/>
<rect x="551.0" y="1174.38" width="10.2" height="11.6" fill="#6bb03f"/>
<rect x="604.8" y="1174.38" width="124.3" height="11.6" fill="#6bb03f"/>
<rect x="738.0" y="1174.38" width="13.6" height="11.6" fill="#6bb03f"/>
<rect x="751.6" y="1174.38" width="26.9" height="11.6" fill="#fcc80f"/>
<path d="M383.3 1197.90H763.4" stroke="#6b6b70" stroke-width="1.5"/>
<rect x="383.9" y="1192.10" width="46.3" height="11.6" fill="#6bb03f"/>
<rect x="509.8" y="1192.10" width="23.5" height="11.6" fill="#6bb03f"/>
<rect x="543.9" y="1192.10" width="10.2" height="11.6" fill="#6bb03f"/>
<rect x="597.0" y="1192.10" width="145.7" height="11.6" fill="#6bb03f"/>
<rect x="742.7" y="1192.10" width="20.1" height="11.6" fill="#fcc80f"/>
<path d="M383.3 1215.62H629.6" stroke="#6b6b70" stroke-width="1.5"/>
<rect x="383.9" y="1209.82" width="44.3" height="11.6" fill="#6bb03f"/>
<rect x="441.7" y="1209.82" width="23.2" height="11.6" fill="#6bb03f"/>
<rect x="481.6" y="1209.82" width="10.2" height="11.6" fill="#6bb03f"/>
<rect x="513.2" y="1209.82" width="115.8" height="11.6" fill="#6bb03f"/>
<path d="M383.3 1233.33H721.2" stroke="#6b6b70" stroke-width="1.5"/>
<rect x="383.9" y="1227.53" width="35.4" height="11.6" fill="#6bb03f"/>
<rect x="457.1" y="1227.53" width="33.4" height="11.6" fill="#6bb03f"/>
<rect x="501.7" y="1227.53" width="18.7" height="11.6" fill="#6bb03f"/>
<rect x="536.1" y="1227.53" width="9.5" height="11.6" fill="#6bb03f"/>
<rect x="558.5" y="1227.53" width="112.4" height="11.6" fill="#6bb03f"/>
<rect x="690.0" y="1227.53" width="6.5" height="11.6" fill="#6bb03f"/>
<rect x="700.8" y="1227.53" width="19.7" height="11.6" fill="#6bb03f"/>
<path d="M383.3 1251.05H712.7" stroke="#6b6b70" stroke-width="1.5"/>
<rect x="383.9" y="1245.25" width="35.8" height="11.6" fill="#6bb03f"/>
<rect x="454.3" y="1245.25" width="33.4" height="11.6" fill="#6bb03f"/>
<rect x="498.6" y="1245.25" width="18.4" height="11.6" fill="#6bb03f"/>
<rect x="532.0" y="1245.25" width="9.5" height="11.6" fill="#6bb03f"/>
<rect x="554.8" y="1245.25" width="157.3" height="11.6" fill="#6bb03f"/>
<path d="M383.3 1268.77H678.3" stroke="#6b6b70" stroke-width="1.5"/>
<rect x="383.9" y="1262.97" width="7.5" height="11.6" fill="#fcc80f"/>
<rect x="391.3" y="1262.97" width="42.2" height="11.6" fill="#6bb03f"/>
<rect x="443.4" y="1262.97" width="23.5" height="11.6" fill="#6bb03f"/>
<rect x="480.2" y="1262.97" width="9.5" height="11.6" fill="#6bb03f"/>
<rect x="537.1" y="1262.97" width="52.1" height="11.6" fill="#6bb03f"/>
<rect x="604.8" y="1262.97" width="56.2" height="11.6" fill="#6bb03f"/>
<rect x="661.0" y="1262.97" width="16.7" height="11.6" fill="#fcc80f"/>
<path d="M383.3 1286.49H669.1" stroke="#6b6b70" stroke-width="1.5"/>
<rect x="383.9" y="1280.69" width="7.8" height="11.6" fill="#fcc80f"/>
<rect x="391.7" y="1280.69" width="40.2" height="11.6" fill="#6bb03f"/>
<rect x="442.8" y="1280.69" width="23.5" height="11.6" fill="#6bb03f"/>
<rect x="480.2" y="1280.69" width="9.5" height="11.6" fill="#6bb03f"/>
<rect x="524.1" y="1280.69" width="52.4" height="11.6" fill="#6bb03f"/>
<rect x="593.9" y="1280.69" width="56.5" height="11.6" fill="#6bb03f"/>
<rect x="650.5" y="1280.69" width="18.0" height="11.6" fill="#fcc80f"/>
<path d="M383.3 1304.21H659.2" stroke="#6b6b70" stroke-width="1.5"/>
<rect x="383.9" y="1298.41" width="48.7" height="11.6" fill="#6bb03f"/>
<rect x="443.4" y="1298.41" width="22.8" height="11.6" fill="#6bb03f"/>
<rect x="478.8" y="1298.41" width="9.9" height="11.6" fill="#6bb03f"/>
<rect x="506.1" y="1298.41" width="40.2" height="11.6" fill="#6bb03f"/>
<rect x="558.2" y="1298.41" width="41.5" height="11.6" fill="#6bb03f"/>
<rect x="612.0" y="1298.41" width="24.5" height="11.6" fill="#6bb03f"/>
<rect x="636.5" y="1298.41" width="22.1" height="11.6" fill="#fcc80f"/>
<path d="M383.3 1321.93H665.0" stroke="#6b6b70" stroke-width="1.5"/>
<rect x="383.9" y="1316.13" width="48.7" height="11.6" fill="#6bb03f"/>
<rect x="447.5" y="1316.13" width="22.8" height="11.6" fill="#6bb03f"/>
<rect x="484.3" y="1316.13" width="10.2" height="11.6" fill="#6bb03f"/>
<rect x="511.9" y="1316.13" width="41.5" height="11.6" fill="#6bb03f"/>
<rect x="564.7" y="1316.13" width="41.5" height="11.6" fill="#6bb03f"/>
<rect x="617.8" y="1316.13" width="24.9" height="11.6" fill="#6bb03f"/>
<rect x="642.6" y="1316.13" width="21.8" height="11.6" fill="#fcc80f"/>
<path d="M383.3 1339.64H672.8" stroke="#6b6b70" stroke-width="1.5"/>
<rect x="383.9" y="1333.84" width="14.0" height="11.6" fill="#fcc80f"/>
<rect x="397.8" y="1333.84" width="36.8" height="11.6" fill="#6bb03f"/>
<rect x="464.9" y="1333.84" width="9.2" height="11.6" fill="#6bb03f"/>
<rect x="483.6" y="1333.84" width="26.6" height="11.6" fill="#6bb03f"/>
<rect x="522.8" y="1333.84" width="54.1" height="11.6" fill="#6bb03f"/>
<rect x="600.1" y="1333.84" width="53.5" height="11.6" fill="#6bb03f"/>
<rect x="653.5" y="1333.84" width="18.7" height="11.6" fill="#fcc80f"/>
<path d="M383.3 1357.36H724.3" stroke="#6b6b70" stroke-width="1.5"/>
<rect x="383.9" y="1351.56" width="15.3" height="11.6" fill="#fcc80f"/>
<rect x="399.2" y="1351.56" width="36.8" height="11.6" fill="#6bb03f"/>
<rect x="466.3" y="1351.56" width="9.5" height="11.6" fill="#6bb03f"/>
<rect x="488.7" y="1351.56" width="24.5" height="11.6" fill="#6bb03f"/>
<rect x="576.6" y="1351.56" width="54.1" height="11.6" fill="#6bb03f"/>
<rect x="652.5" y="1351.56" width="52.8" height="11.6" fill="#6bb03f"/>
<rect x="705.3" y="1351.56" width="18.4" height="11.6" fill="#fcc80f"/>
<path d="M383.3 1375.08H700.1" stroke="#6b6b70" stroke-width="1.5"/>
<rect x="383.9" y="1369.28" width="18.7" height="11.6" fill="#fcc80f"/>
<rect x="402.6" y="1369.28" width="36.4" height="11.6" fill="#6bb03f"/>
<rect x="488.0" y="1369.28" width="13.3" height="11.6" fill="#6bb03f"/>
<rect x="515.3" y="1369.28" width="22.1" height="11.6" fill="#6bb03f"/>
<rect x="548.0" y="1369.28" width="54.5" height="11.6" fill="#6bb03f"/>
<rect x="627.0" y="1369.28" width="52.8" height="11.6" fill="#6bb03f"/>
<rect x="679.7" y="1369.28" width="19.7" height="11.6" fill="#fcc80f"/>
<path d="M383.3 1392.80H721.2" stroke="#6b6b70" stroke-width="1.5"/>
<rect x="383.9" y="1387.00" width="4.8" height="11.6" fill="#fcc80f"/>
<rect x="388.6" y="1387.00" width="36.4" height="11.6" fill="#6bb03f"/>
<rect x="480.2" y="1387.00" width="10.9" height="11.6" fill="#6bb03f"/>
<rect x="495.2" y="1387.00" width="21.8" height="11.6" fill="#6bb03f"/>
<rect x="572.1" y="1387.00" width="55.8" height="11.6" fill="#6bb03f"/>
<rect x="640.2" y="1387.00" width="52.8" height="11.6" fill="#6bb03f"/>
<rect x="693.0" y="1387.00" width="27.6" height="11.6" fill="#fcc80f"/>
<path d="M383.3 1410.52H780.8" stroke="#6b6b70" stroke-width="1.5"/>
<rect x="383.9" y="1404.72" width="4.8" height="11.6" fill="#6bb03f"/>
<rect x="448.2" y="1404.72" width="35.8" height="11.6" fill="#6bb03f"/>
<rect x="543.2" y="1404.72" width="10.9" height="11.6" fill="#6bb03f"/>
<rect x="557.8" y="1404.72" width="21.8" height="11.6" fill="#6bb03f"/>
<rect x="631.4" y="1404.72" width="55.5" height="11.6" fill="#6bb03f"/>
<rect x="699.8" y="1404.72" width="52.1" height="11.6" fill="#6bb03f"/>
<rect x="751.9" y="1404.72" width="28.3" height="11.6" fill="#fcc80f"/>
<path d="M383.3 1428.24H698.7" stroke="#6b6b70" stroke-width="1.5"/>
<rect x="383.9" y="1422.44" width="39.8" height="11.6" fill="#6bb03f"/>
<rect x="436.3" y="1422.44" width="42.2" height="11.6" fill="#6bb03f"/>
<rect x="492.1" y="1422.44" width="58.6" height="11.6" fill="#6bb03f"/>
<rect x="621.2" y="1422.44" width="52.4" height="11.6" fill="#6bb03f"/>
<rect x="673.6" y="1422.44" width="24.5" height="11.6" fill="#fcc80f"/>
<path d="M383.3 1445.96H670.8" stroke="#6b6b70" stroke-width="1.5"/>
<rect x="383.9" y="1440.16" width="4.4" height="11.6" fill="#fcc80f"/>
<rect x="388.3" y="1440.16" width="39.2" height="11.6" fill="#6bb03f"/>
<rect x="442.8" y="1440.16" width="9.9" height="11.6" fill="#6bb03f"/>
<rect x="460.8" y="1440.16" width="30.6" height="11.6" fill="#6bb03f"/>
<rect x="504.0" y="1440.16" width="57.9" height="11.6" fill="#6bb03f"/>
<rect x="595.0" y="1440.16" width="53.1" height="11.6" fill="#6bb03f"/>
<rect x="648.1" y="1440.16" width="22.1" height="11.6" fill="#fcc80f"/>
<path d="M383.3 1463.67H660.9" stroke="#6b6b70" stroke-width="1.5"/>
<rect x="383.9" y="1457.87" width="39.8" height="11.6" fill="#6bb03f"/>
<rect x="439.0" y="1457.87" width="13.6" height="11.6" fill="#6bb03f"/>
<rect x="458.4" y="1457.87" width="21.5" height="11.6" fill="#6bb03f"/>
<rect x="492.5" y="1457.87" width="57.9" height="11.6" fill="#6bb03f"/>
<rect x="584.4" y="1457.87" width="52.8" height="11.6" fill="#6bb03f"/>
<rect x="637.2" y="1457.87" width="23.2" height="11.6" fill="#fcc80f"/>
<path d="M383.3 1481.39H603.0" stroke="#6b6b70" stroke-width="1.5"/>
<rect x="383.9" y="1475.59" width="8.5" height="11.6" fill="#6bb03f"/>
<rect x="418.9" y="1475.59" width="6.8" height="11.6" fill="#6bb03f"/>
<rect x="509.2" y="1475.59" width="21.5" height="11.6" fill="#6bb03f"/>
<rect x="559.5" y="1475.59" width="11.6" height="11.6" fill="#6bb03f"/>
<rect x="584.1" y="1475.59" width="18.4" height="11.6" fill="#6bb03f"/>
<path d="M383.3 1499.11H637.8" stroke="#6b6b70" stroke-width="1.5"/>
<rect x="383.9" y="1493.31" width="11.2" height="11.6" fill="#fcc80f"/>
<rect x="395.1" y="1493.31" width="39.5" height="11.6" fill="#6bb03f"/>
<rect x="444.8" y="1493.31" width="32.7" height="11.6" fill="#6bb03f"/>
<rect x="489.4" y="1493.31" width="53.8" height="11.6" fill="#6bb03f"/>
<rect x="573.2" y="1493.31" width="48.7" height="11.6" fill="#6bb03f"/>
<rect x="621.9" y="1493.31" width="15.3" height="11.6" fill="#fcc80f"/>
<path d="M383.3 1516.83H792.4" stroke="#6b6b70" stroke-width="1.5"/>
<rect x="383.9" y="1511.03" width="17.4" height="11.6" fill="#fcc80f"/>
<rect x="401.2" y="1511.03" width="38.8" height="11.6" fill="#6bb03f"/>
<rect x="450.6" y="1511.03" width="32.7" height="11.6" fill="#6bb03f"/>
<rect x="495.9" y="1511.03" width="53.1" height="11.6" fill="#6bb03f"/>
<rect x="578.3" y="1511.03" width="42.9" height="11.6" fill="#6bb03f"/>
<rect x="766.9" y="1511.03" width="24.9" height="11.6" fill="#6bb03f"/>
<path d="M383.3 1534.55H621.4" stroke="#6b6b70" stroke-width="1.5"/>
<rect x="383.9" y="1528.75" width="36.8" height="11.6" fill="#6bb03f"/>
<rect x="501.0" y="1528.75" width="92.6" height="11.6" fill="#6bb03f"/>
<rect x="604.1" y="1528.75" width="16.7" height="11.6" fill="#6bb03f"/>
<path d="M383.3 1552.27H660.2" stroke="#6b6b70" stroke-width="1.5"/>
<rect x="383.9" y="1546.47" width="13.3" height="11.6" fill="#6bb03f"/>
<rect x="532.6" y="1546.47" width="94.3" height="11.6" fill="#6bb03f"/>
<rect x="638.2" y="1546.47" width="21.5" height="11.6" fill="#6bb03f"/>
<path d="M383.3 1569.98H492.4" stroke="#6b6b70" stroke-width="1.5"/>
<rect x="383.9" y="1564.18" width="50.7" height="11.6" fill="#6bb03f"/>
<rect x="446.2" y="1564.18" width="20.1" height="11.6" fill="#6bb03f"/>
<rect x="466.3" y="1564.18" width="25.5" height="11.6" fill="#fcc80f"/>
<path d="M383.3 1587.70H577.9" stroke="#6b6b70" stroke-width="1.5"/>
<rect x="383.9" y="1581.90" width="7.2" height="11.6" fill="#fcc80f"/>
<rect x="391.0" y="1581.90" width="25.2" height="11.6" fill="#6bb03f"/>
<rect x="433.2" y="1581.90" width="93.6" height="11.6" fill="#6bb03f"/>
<rect x="537.4" y="1581.90" width="19.7" height="11.6" fill="#6bb03f"/>
<rect x="557.2" y="1581.90" width="20.1" height="11.6" fill="#fcc80f"/>
<path d="M383.3 1605.42H580.9" stroke="#6b6b70" stroke-width="1.5"/>
<rect x="383.9" y="1599.62" width="9.5" height="11.6" fill="#fcc80f"/>
<rect x="393.4" y="1599.62" width="25.2" height="11.6" fill="#6bb03f"/>
<rect x="435.9" y="1599.62" width="94.0" height="11.6" fill="#6bb03f"/>
<rect x="540.8" y="1599.62" width="19.4" height="11.6" fill="#6bb03f"/>
<rect x="560.2" y="1599.62" width="20.1" height="11.6" fill="#fcc80f"/>
<path d="M383.3 1623.14H582.6" stroke="#6b6b70" stroke-width="1.5"/>
<rect x="383.9" y="1617.34" width="7.2" height="11.6" fill="#fcc80f"/>
<rect x="391.0" y="1617.34" width="25.2" height="11.6" fill="#6bb03f"/>
<rect x="435.3" y="1617.34" width="94.0" height="11.6" fill="#6bb03f"/>
<rect x="540.8" y="1617.34" width="19.7" height="11.6" fill="#6bb03f"/>
<rect x="560.6" y="1617.34" width="21.5" height="11.6" fill="#fcc80f"/>
<path d="M383.3 1640.86H579.2" stroke="#6b6b70" stroke-width="1.5"/>
<rect x="383.9" y="1635.06" width="7.2" height="11.6" fill="#fcc80f"/>
<rect x="391.0" y="1635.06" width="25.2" height="11.6" fill="#6bb03f"/>
<rect x="435.3" y="1635.06" width="94.0" height="11.6" fill="#6bb03f"/>
<rect x="540.8" y="1635.06" width="19.7" height="11.6" fill="#6bb03f"/>
<rect x="560.6" y="1635.06" width="18.0" height="11.6" fill="#fcc80f"/>
<path d="M383.3 1658.58H644.9" stroke="#6b6b70" stroke-width="1.5"/>
<rect x="383.9" y="1652.78" width="18.7" height="11.6" fill="#fcc80f"/>
<rect x="402.6" y="1652.78" width="24.5" height="11.6" fill="#6bb03f"/>
<rect x="494.5" y="1652.78" width="27.9" height="11.6" fill="#6bb03f"/>
<rect x="533.7" y="1652.78" width="54.5" height="11.6" fill="#6bb03f"/>
<rect x="598.4" y="1652.78" width="19.4" height="11.6" fill="#6bb03f"/>
<rect x="617.8" y="1652.78" width="26.6" height="11.6" fill="#fcc80f"/>
<path d="M383.3 1676.29H646.6" stroke="#6b6b70" stroke-width="1.5"/>
<rect x="383.9" y="1670.49" width="18.7" height="11.6" fill="#fcc80f"/>
<rect x="402.6" y="1670.49" width="25.2" height="11.6" fill="#6bb03f"/>
<rect x="495.5" y="1670.49" width="28.3" height="11.6" fill="#6bb03f"/>
<rect x="534.7" y="1670.49" width="54.5" height="11.6" fill="#6bb03f"/>
<rect x="599.4" y="1670.49" width="19.7" height="11.6" fill="#6bb03f"/>
<rect x="619.1" y="1670.49" width="26.9" height="11.6" fill="#fcc80f"/>
<path d="M383.3 1694.01H603.0" stroke="#6b6b70" stroke-width="1.5"/>
<rect x="383.9" y="1688.21" width="8.9" height="11.6" fill="#fcc80f"/>
<rect x="392.7" y="1688.21" width="25.2" height="11.6" fill="#6bb03f"/>
<rect x="447.9" y="1688.21" width="30.3" height="11.6" fill="#6bb03f"/>
<rect x="487.0" y="1688.21" width="54.1" height="11.6" fill="#6bb03f"/>
<rect x="552.7" y="1688.21" width="19.7" height="11.6" fill="#6bb03f"/>
<rect x="572.5" y="1688.21" width="30.0" height="11.6" fill="#fcc80f"/>
<path d="M383.3 1711.73H590.8" stroke="#6b6b70" stroke-width="1.5"/>
<rect x="383.9" y="1705.93" width="9.9" height="11.6" fill="#fcc80f"/>
<rect x="393.7" y="1705.93" width="25.5" height="11.6" fill="#6bb03f"/>
<rect x="440.7" y="1705.93" width="94.0" height="11.6" fill="#6bb03f"/>
<rect x="546.3" y="1705.93" width="19.7" height="11.6" fill="#6bb03f"/>
<rect x="566.0" y="1705.93" width="24.2" height="11.6" fill="#fcc80f"/>
<path d="M383.3 1729.45H591.8" stroke="#6b6b70" stroke-width="1.5"/>
<rect x="383.9" y="1723.65" width="9.9" height="11.6" fill="#fcc80f"/>
<rect x="393.7" y="1723.65" width="25.5" height="11.6" fill="#6bb03f"/>
<rect x="440.7" y="1723.65" width="94.0" height="11.6" fill="#6bb03f"/>
<rect x="546.3" y="1723.65" width="19.7" height="11.6" fill="#6bb03f"/>
<rect x="566.0" y="1723.65" width="25.2" height="11.6" fill="#fcc80f"/>
</g>
<rect x="704.2" y="70.1" width="22" height="18.2" fill="#6bb03f"/>
<rect x="704.2" y="93" width="22" height="18.5" fill="#fcc80f"/>
<text x="728.9" y="81.5" font-size="20.3" fill="#333" textLength="42.2" lengthAdjust="spacingAndGlyphs">CDS</text>
<text x="729.2" y="109.8" font-size="20.3" fill="#333" textLength="41" lengthAdjust="spacingAndGlyphs">UTR</text>
<path d="M384.1 1747.0H814.1M384.1 1747.0v6.2M423.2 1747.0v6.2M462.3 1747.0v6.2M501.4 1747.0v6.2M540.5 1747.0v6.2M579.5 1747.0v6.2M618.6 1747.0v6.2M657.7 1747.0v6.2M696.8 1747.0v6.2M735.9 1747.0v6.2M775.0 1747.0v6.2M814.1 1747.0v6.2" fill="none" stroke="#7a7a7a" stroke-width="1.7"/>
<g font-size="17.9" fill="#111" text-anchor="middle">
<text x="385.1" y="1769.4">0</text>
<text x="463.3" y="1769.4">600</text>
<text x="541.5" y="1769.4">1200</text>
<text x="619.6" y="1769.4">1800</text>
<text x="697.8" y="1769.4">2400</text>
<text x="776.0" y="1769.4">3000</text>
</g>
<g font-size="18" fill="#111">
<text x="369.3" y="1751">5'</text>
<text x="818" y="1751">3'</text>
<text x="849.3" y="1751">5'</text>
<text x="1337.2" y="1751">3'</text>
</g>
<g>
<path d="M864.0 46.20H1011.3" stroke="#707074" stroke-width="1.9"/>
<rect x="878.0" y="40.60" width="9.2" height="11.2" fill="#0e867a"/>
<rect x="888.9" y="40.60" width="6.3" height="11.2" fill="#5c3d8d"/>
<rect x="896.0" y="40.60" width="9.2" height="11.2" fill="#938db5"/>
<rect x="908.8" y="40.60" width="13.3" height="11.2" fill="#a9d57e"/>
<rect x="923.8" y="40.60" width="26.4" height="11.2" fill="#6bb33c"/>
<rect x="951.5" y="40.60" width="18.6" height="11.2" fill="#fecb0e"/>
<rect x="974.5" y="40.60" width="12.8" height="11.2" fill="#f0577d"/>
<rect x="988.1" y="40.60" width="9.9" height="11.2" fill="#e80820"/>
<rect x="998.7" y="40.60" width="9.2" height="11.2" fill="#4bba8d"/>
<path d="M864.0 63.92H1011.3" stroke="#707074" stroke-width="1.9"/>
<rect x="878.0" y="58.32" width="9.2" height="11.2" fill="#0e867a"/>
<rect x="888.9" y="58.32" width="6.3" height="11.2" fill="#5c3d8d"/>
<rect x="896.0" y="58.32" width="9.2" height="11.2" fill="#938db5"/>
<rect x="908.8" y="58.32" width="13.3" height="11.2" fill="#a9d57e"/>
<rect x="923.8" y="58.32" width="26.4" height="11.2" fill="#6bb33c"/>
<rect x="951.5" y="58.32" width="18.6" height="11.2" fill="#fecb0e"/>
<rect x="974.5" y="58.32" width="12.8" height="11.2" fill="#f0577d"/>
<rect x="988.1" y="58.32" width="9.9" height="11.2" fill="#e80820"/>
<rect x="998.7" y="58.32" width="9.2" height="11.2" fill="#4bba8d"/>
<path d="M864.0 81.64H1012.0" stroke="#707074" stroke-width="1.9"/>
<rect x="878.8" y="76.04" width="9.2" height="11.2" fill="#0e867a"/>
<rect x="889.7" y="76.04" width="6.3" height="11.2" fill="#5c3d8d"/>
<rect x="896.7" y="76.04" width="9.2" height="11.2" fill="#938db5"/>
<rect x="909.6" y="76.04" width="13.3" height="11.2" fill="#a9d57e"/>
<rect x="924.6" y="76.04" width="26.4" height="11.2" fill="#6bb33c"/>
<rect x="952.2" y="76.04" width="18.6" height="11.2" fill="#fecb0e"/>
<rect x="975.2" y="76.04" width="12.8" height="11.2" fill="#f0577d"/>
<rect x="988.8" y="76.04" width="9.9" height="11.2" fill="#e80820"/>
<rect x="999.4" y="76.04" width="9.2" height="11.2" fill="#4bba8d"/>
<path d="M864.0 99.36H1012.0" stroke="#707074" stroke-width="1.9"/>
<rect x="878.8" y="93.76" width="9.2" height="11.2" fill="#0e867a"/>
<rect x="889.7" y="93.76" width="6.3" height="11.2" fill="#5c3d8d"/>
<rect x="896.7" y="93.76" width="9.2" height="11.2" fill="#938db5"/>
<rect x="909.6" y="93.76" width="13.3" height="11.2" fill="#a9d57e"/>
<rect x="924.6" y="93.76" width="26.4" height="11.2" fill="#6bb33c"/>
<rect x="952.2" y="93.76" width="18.6" height="11.2" fill="#fecb0e"/>
<rect x="975.2" y="93.76" width="12.8" height="11.2" fill="#f0577d"/>
<rect x="988.8" y="93.76" width="9.9" height="11.2" fill="#e80820"/>
<rect x="999.4" y="93.76" width="9.2" height="11.2" fill="#4bba8d"/>
<path d="M864.0 117.07H995.8" stroke="#707074" stroke-width="1.9"/>
<rect x="880.7" y="111.47" width="9.2" height="11.2" fill="#938db5"/>
<rect x="893.6" y="111.47" width="13.3" height="11.2" fill="#a9d57e"/>
<rect x="908.3" y="111.47" width="26.4" height="11.2" fill="#6bb33c"/>
<rect x="935.7" y="111.47" width="18.6" height="11.2" fill="#fecb0e"/>
<rect x="959.0" y="111.47" width="12.8" height="11.2" fill="#f0577d"/>
<rect x="972.6" y="111.47" width="9.9" height="11.2" fill="#e80820"/>
<rect x="983.0" y="111.47" width="9.2" height="11.2" fill="#4bba8d"/>
<path d="M864.0 134.79H1012.0" stroke="#707074" stroke-width="1.9"/>
<rect x="878.8" y="129.19" width="9.2" height="11.2" fill="#0e867a"/>
<rect x="889.7" y="129.19" width="6.3" height="11.2" fill="#5c3d8d"/>
<rect x="896.7" y="129.19" width="9.2" height="11.2" fill="#938db5"/>
<rect x="909.6" y="129.19" width="13.3" height="11.2" fill="#a9d57e"/>
<rect x="924.6" y="129.19" width="26.4" height="11.2" fill="#6bb33c"/>
<rect x="952.2" y="129.19" width="18.6" height="11.2" fill="#fecb0e"/>
<rect x="975.2" y="129.19" width="12.8" height="11.2" fill="#f0577d"/>
<rect x="988.8" y="129.19" width="9.9" height="11.2" fill="#e80820"/>
<rect x="999.4" y="129.19" width="9.2" height="11.2" fill="#4bba8d"/>
<path d="M864.0 152.51H1011.8" stroke="#707074" stroke-width="1.9"/>
<rect x="878.0" y="146.91" width="9.2" height="11.2" fill="#0e867a"/>
<rect x="888.0" y="146.91" width="6.3" height="11.2" fill="#5c3d8d"/>
<rect x="895.3" y="146.91" width="9.2" height="11.2" fill="#938db5"/>
<rect x="908.3" y="146.91" width="13.3" height="11.2" fill="#a9d57e"/>
<rect x="923.1" y="146.91" width="26.4" height="11.2" fill="#6bb33c"/>
<rect x="950.7" y="146.91" width="18.6" height="11.2" fill="#fecb0e"/>
<rect x="973.3" y="146.91" width="12.8" height="11.2" fill="#f0577d"/>
<rect x="988.5" y="146.91" width="9.9" height="11.2" fill="#e80820"/>
<rect x="999.4" y="146.91" width="9.2" height="11.2" fill="#4bba8d"/>
<path d="M864.0 170.23H992.9" stroke="#707074" stroke-width="1.9"/>
<rect x="879.3" y="164.63" width="9.2" height="11.2" fill="#0e867a"/>
<rect x="889.9" y="164.63" width="6.3" height="11.2" fill="#5c3d8d"/>
<rect x="896.7" y="164.63" width="9.2" height="11.2" fill="#938db5"/>
<rect x="908.3" y="164.63" width="13.3" height="11.2" fill="#a9d57e"/>
<rect x="923.1" y="164.63" width="26.4" height="11.2" fill="#6bb33c"/>
<rect x="954.3" y="164.63" width="12.8" height="11.2" fill="#f0577d"/>
<rect x="969.9" y="164.63" width="9.9" height="11.2" fill="#e80820"/>
<rect x="980.6" y="164.63" width="9.2" height="11.2" fill="#4bba8d"/>
<path d="M864.0 187.95H1011.8" stroke="#707074" stroke-width="1.9"/>
<rect x="878.0" y="182.35" width="9.2" height="11.2" fill="#0e867a"/>
<rect x="888.0" y="182.35" width="6.3" height="11.2" fill="#5c3d8d"/>
<rect x="895.3" y="182.35" width="9.2" height="11.2" fill="#938db5"/>
<rect x="908.3" y="182.35" width="13.3" height="11.2" fill="#a9d57e"/>
<rect x="923.1" y="182.35" width="26.4" height="11.2" fill="#6bb33c"/>
<rect x="950.7" y="182.35" width="18.6" height="11.2" fill="#fecb0e"/>
<rect x="973.3" y="182.35" width="12.8" height="11.2" fill="#f0577d"/>
<rect x="988.5" y="182.35" width="9.9" height="11.2" fill="#e80820"/>
<rect x="999.4" y="182.35" width="9.2" height="11.2" fill="#4bba8d"/>
<path d="M864.0 205.67H1011.8" stroke="#707074" stroke-width="1.9"/>
<rect x="878.0" y="200.07" width="9.2" height="11.2" fill="#0e867a"/>
<rect x="888.0" y="200.07" width="6.3" height="11.2" fill="#5c3d8d"/>
<rect x="895.3" y="200.07" width="9.2" height="11.2" fill="#938db5"/>
<rect x="908.3" y="200.07" width="13.3" height="11.2" fill="#a9d57e"/>
<rect x="923.1" y="200.07" width="26.4" height="11.2" fill="#6bb33c"/>
<rect x="950.7" y="200.07" width="18.6" height="11.2" fill="#fecb0e"/>
<rect x="973.3" y="200.07" width="12.8" height="11.2" fill="#f0577d"/>
<rect x="988.5" y="200.07" width="9.9" height="11.2" fill="#e80820"/>
<rect x="999.4" y="200.07" width="9.2" height="11.2" fill="#4bba8d"/>
<path d="M864.0 223.38H1011.8" stroke="#707074" stroke-width="1.9"/>
<rect x="878.0" y="217.78" width="9.2" height="11.2" fill="#0e867a"/>
<rect x="888.0" y="217.78" width="6.3" height="11.2" fill="#5c3d8d"/>
<rect x="895.3" y="217.78" width="9.2" height="11.2" fill="#938db5"/>
<rect x="908.3" y="217.78" width="13.3" height="11.2" fill="#a9d57e"/>
<rect x="923.1" y="217.78" width="26.4" height="11.2" fill="#6bb33c"/>
<rect x="950.7" y="217.78" width="18.6" height="11.2" fill="#fecb0e"/>
<rect x="973.3" y="217.78" width="12.8" height="11.2" fill="#f0577d"/>
<rect x="988.5" y="217.78" width="9.9" height="11.2" fill="#e80820"/>
<rect x="999.4" y="217.78" width="9.2" height="11.2" fill="#4bba8d"/>
<path d="M864.0 241.10H1013.3" stroke="#707074" stroke-width="1.9"/>
<rect x="878.0" y="235.50" width="9.2" height="11.2" fill="#0e867a"/>
<rect x="888.9" y="235.50" width="6.3" height="11.2" fill="#5c3d8d"/>
<rect x="896.0" y="235.50" width="9.2" height="11.2" fill="#938db5"/>
<rect x="908.3" y="235.50" width="13.3" height="11.2" fill="#a9d57e"/>
<rect x="923.1" y="235.50" width="26.4" height="11.2" fill="#6bb33c"/>
<rect x="950.7" y="235.50" width="18.6" height="11.2" fill="#fecb0e"/>
<rect x="974.0" y="235.50" width="12.8" height="11.2" fill="#f0577d"/>
<rect x="989.3" y="235.50" width="9.9" height="11.2" fill="#e80820"/>
<rect x="999.9" y="235.50" width="9.2" height="11.2" fill="#4bba8d"/>
<path d="M864.0 258.82H1013.3" stroke="#707074" stroke-width="1.9"/>
<rect x="878.0" y="253.22" width="9.2" height="11.2" fill="#0e867a"/>
<rect x="888.9" y="253.22" width="6.3" height="11.2" fill="#5c3d8d"/>
<rect x="896.0" y="253.22" width="9.2" height="11.2" fill="#938db5"/>
<rect x="908.3" y="253.22" width="13.3" height="11.2" fill="#a9d57e"/>
<rect x="923.1" y="253.22" width="26.4" height="11.2" fill="#6bb33c"/>
<rect x="950.7" y="253.22" width="18.6" height="11.2" fill="#fecb0e"/>
<rect x="974.0" y="253.22" width="12.8" height="11.2" fill="#f0577d"/>
<rect x="989.3" y="253.22" width="9.9" height="11.2" fill="#e80820"/>
<rect x="999.9" y="253.22" width="9.2" height="11.2" fill="#4bba8d"/>
<path d="M864.0 276.54H1011.8" stroke="#707074" stroke-width="1.9"/>
<rect x="878.0" y="270.94" width="9.2" height="11.2" fill="#0e867a"/>
<rect x="888.9" y="270.94" width="6.3" height="11.2" fill="#5c3d8d"/>
<rect x="896.0" y="270.94" width="9.2" height="11.2" fill="#938db5"/>
<rect x="908.3" y="270.94" width="13.3" height="11.2" fill="#a9d57e"/>
<rect x="923.1" y="270.94" width="26.4" height="11.2" fill="#6bb33c"/>
<rect x="950.7" y="270.94" width="18.6" height="11.2" fill="#fecb0e"/>
<rect x="973.3" y="270.94" width="12.8" height="11.2" fill="#f0577d"/>
<rect x="988.5" y="270.94" width="9.9" height="11.2" fill="#e80820"/>
<rect x="999.4" y="270.94" width="9.2" height="11.2" fill="#4bba8d"/>
<path d="M864.0 294.26H1011.8" stroke="#707074" stroke-width="1.9"/>
<rect x="878.0" y="288.66" width="9.2" height="11.2" fill="#0e867a"/>
<rect x="888.9" y="288.66" width="6.3" height="11.2" fill="#5c3d8d"/>
<rect x="896.0" y="288.66" width="9.2" height="11.2" fill="#938db5"/>
<rect x="908.3" y="288.66" width="13.3" height="11.2" fill="#a9d57e"/>
<rect x="923.1" y="288.66" width="26.4" height="11.2" fill="#6bb33c"/>
<rect x="950.7" y="288.66" width="18.6" height="11.2" fill="#fecb0e"/>
<rect x="973.3" y="288.66" width="12.8" height="11.2" fill="#f0577d"/>
<rect x="988.5" y="288.66" width="9.9" height="11.2" fill="#e80820"/>
<rect x="999.4" y="288.66" width="9.2" height="11.2" fill="#4bba8d"/>
<path d="M864.0 311.98H1013.3" stroke="#707074" stroke-width="1.9"/>
<rect x="879.7" y="306.38" width="9.2" height="11.2" fill="#0e867a"/>
<rect x="890.2" y="306.38" width="6.3" height="11.2" fill="#5c3d8d"/>
<rect x="897.4" y="306.38" width="9.2" height="11.2" fill="#938db5"/>
<rect x="909.6" y="306.38" width="13.3" height="11.2" fill="#a9d57e"/>
<rect x="924.6" y="306.38" width="26.4" height="11.2" fill="#6bb33c"/>
<rect x="952.2" y="306.38" width="18.6" height="11.2" fill="#fecb0e"/>
<rect x="974.9" y="306.38" width="12.8" height="11.2" fill="#f0577d"/>
<rect x="990.2" y="306.38" width="9.9" height="11.2" fill="#e80820"/>
<rect x="1000.7" y="306.38" width="9.2" height="11.2" fill="#4bba8d"/>
<path d="M864.0 329.69H1012.5" stroke="#707074" stroke-width="1.9"/>
<rect x="878.8" y="324.09" width="9.2" height="11.2" fill="#0e867a"/>
<rect x="889.7" y="324.09" width="6.3" height="11.2" fill="#5c3d8d"/>
<rect x="896.7" y="324.09" width="9.2" height="11.2" fill="#938db5"/>
<rect x="909.1" y="324.09" width="13.3" height="11.2" fill="#a9d57e"/>
<rect x="923.9" y="324.09" width="26.4" height="11.2" fill="#6bb33c"/>
<rect x="951.5" y="324.09" width="18.6" height="11.2" fill="#fecb0e"/>
<rect x="974.0" y="324.09" width="12.8" height="11.2" fill="#f0577d"/>
<rect x="989.3" y="324.09" width="9.9" height="11.2" fill="#e80820"/>
<rect x="999.9" y="324.09" width="9.2" height="11.2" fill="#4bba8d"/>
<path d="M864.0 347.41H1010.3" stroke="#707074" stroke-width="1.9"/>
<rect x="877.0" y="341.81" width="9.2" height="11.2" fill="#0e867a"/>
<rect x="887.7" y="341.81" width="6.3" height="11.2" fill="#5c3d8d"/>
<rect x="894.7" y="341.81" width="9.2" height="11.2" fill="#938db5"/>
<rect x="906.9" y="341.81" width="13.3" height="11.2" fill="#a9d57e"/>
<rect x="921.9" y="341.81" width="26.4" height="11.2" fill="#6bb33c"/>
<rect x="949.1" y="341.81" width="18.6" height="11.2" fill="#fecb0e"/>
<rect x="972.0" y="341.81" width="12.8" height="11.2" fill="#f0577d"/>
<rect x="987.3" y="341.81" width="9.9" height="11.2" fill="#e80820"/>
<rect x="997.8" y="341.81" width="9.2" height="11.2" fill="#4bba8d"/>
<path d="M864.0 365.13H1010.3" stroke="#707074" stroke-width="1.9"/>
<rect x="877.0" y="359.53" width="9.2" height="11.2" fill="#0e867a"/>
<rect x="887.7" y="359.53" width="6.3" height="11.2" fill="#5c3d8d"/>
<rect x="894.7" y="359.53" width="9.2" height="11.2" fill="#938db5"/>
<rect x="906.9" y="359.53" width="13.3" height="11.2" fill="#a9d57e"/>
<rect x="921.9" y="359.53" width="26.4" height="11.2" fill="#6bb33c"/>
<rect x="949.1" y="359.53" width="18.6" height="11.2" fill="#fecb0e"/>
<rect x="972.0" y="359.53" width="12.8" height="11.2" fill="#f0577d"/>
<rect x="987.3" y="359.53" width="9.9" height="11.2" fill="#e80820"/>
<rect x="997.8" y="359.53" width="9.2" height="11.2" fill="#4bba8d"/>
<path d="M864.0 382.85H1013.8" stroke="#707074" stroke-width="1.9"/>
<rect x="880.2" y="377.25" width="9.2" height="11.2" fill="#0e867a"/>
<rect x="890.9" y="377.25" width="6.3" height="11.2" fill="#5c3d8d"/>
<rect x="898.1" y="377.25" width="9.2" height="11.2" fill="#938db5"/>
<rect x="910.3" y="377.25" width="13.3" height="11.2" fill="#a9d57e"/>
<rect x="925.3" y="377.25" width="26.4" height="11.2" fill="#6bb33c"/>
<rect x="952.7" y="377.25" width="18.6" height="11.2" fill="#fecb0e"/>
<rect x="975.2" y="377.25" width="12.8" height="11.2" fill="#f0577d"/>
<rect x="990.7" y="377.25" width="9.9" height="11.2" fill="#e80820"/>
<rect x="1001.4" y="377.25" width="9.2" height="11.2" fill="#4bba8d"/>
<path d="M864.0 400.57H1015.2" stroke="#707074" stroke-width="1.9"/>
<rect x="881.7" y="394.97" width="9.2" height="11.2" fill="#0e867a"/>
<rect x="892.3" y="394.97" width="6.3" height="11.2" fill="#5c3d8d"/>
<rect x="899.6" y="394.97" width="9.2" height="11.2" fill="#938db5"/>
<rect x="911.7" y="394.97" width="13.3" height="11.2" fill="#a9d57e"/>
<rect x="926.7" y="394.97" width="26.4" height="11.2" fill="#6bb33c"/>
<rect x="954.3" y="394.97" width="18.6" height="11.2" fill="#fecb0e"/>
<rect x="976.6" y="394.97" width="12.8" height="11.2" fill="#f0577d"/>
<rect x="992.0" y="394.97" width="9.9" height="11.2" fill="#e80820"/>
<rect x="1002.8" y="394.97" width="9.2" height="11.2" fill="#4bba8d"/>
<path d="M864.0 418.29H995.6" stroke="#707074" stroke-width="1.9"/>
<rect x="872.7" y="412.69" width="9.2" height="11.2" fill="#938db5"/>
<rect x="885.0" y="412.69" width="13.3" height="11.2" fill="#a9d57e"/>
<rect x="899.8" y="412.69" width="26.4" height="11.2" fill="#6bb33c"/>
<rect x="928.5" y="412.69" width="18.6" height="11.2" fill="#fecb0e"/>
<rect x="951.9" y="412.69" width="12.8" height="11.2" fill="#f0577d"/>
<rect x="967.2" y="412.69" width="9.9" height="11.2" fill="#e80820"/>
<rect x="977.9" y="412.69" width="9.2" height="11.2" fill="#4bba8d"/>
<path d="M864.0 436.01H1012.5" stroke="#707074" stroke-width="1.9"/>
<rect x="877.0" y="430.41" width="9.2" height="11.2" fill="#0e867a"/>
<rect x="888.9" y="430.41" width="6.3" height="11.2" fill="#5c3d8d"/>
<rect x="896.0" y="430.41" width="9.2" height="11.2" fill="#938db5"/>
<rect x="908.3" y="430.41" width="13.3" height="11.2" fill="#a9d57e"/>
<rect x="923.1" y="430.41" width="26.4" height="11.2" fill="#6bb33c"/>
<rect x="952.2" y="430.41" width="18.6" height="11.2" fill="#fecb0e"/>
<rect x="975.2" y="430.41" width="12.8" height="11.2" fill="#f0577d"/>
<rect x="990.7" y="430.41" width="9.9" height="11.2" fill="#e80820"/>
<rect x="1001.4" y="430.41" width="9.2" height="11.2" fill="#4bba8d"/>
<path d="M864.0 453.72H1012.5" stroke="#707074" stroke-width="1.9"/>
<rect x="877.0" y="448.12" width="9.2" height="11.2" fill="#0e867a"/>
<rect x="888.9" y="448.12" width="6.3" height="11.2" fill="#5c3d8d"/>
<rect x="896.0" y="448.12" width="9.2" height="11.2" fill="#938db5"/>
<rect x="908.3" y="448.12" width="13.3" height="11.2" fill="#a9d57e"/>
<rect x="923.1" y="448.12" width="26.4" height="11.2" fill="#6bb33c"/>
<rect x="952.2" y="448.12" width="18.6" height="11.2" fill="#fecb0e"/>
<rect x="975.2" y="448.12" width="12.8" height="11.2" fill="#f0577d"/>
<rect x="990.7" y="448.12" width="9.9" height="11.2" fill="#e80820"/>
<rect x="1001.4" y="448.12" width="9.2" height="11.2" fill="#4bba8d"/>
<path d="M864.0 471.44H1015.0" stroke="#707074" stroke-width="1.9"/>
<rect x="878.8" y="465.84" width="9.2" height="11.2" fill="#0e867a"/>
<rect x="890.9" y="465.84" width="6.3" height="11.2" fill="#5c3d8d"/>
<rect x="898.1" y="465.84" width="9.2" height="11.2" fill="#938db5"/>
<rect x="910.3" y="465.84" width="13.3" height="11.2" fill="#a9d57e"/>
<rect x="925.3" y="465.84" width="26.4" height="11.2" fill="#6bb33c"/>
<rect x="954.3" y="465.84" width="18.6" height="11.2" fill="#fecb0e"/>
<rect x="977.2" y="465.84" width="12.8" height="11.2" fill="#f0577d"/>
<rect x="992.6" y="465.84" width="9.9" height="11.2" fill="#e80820"/>
<rect x="1003.6" y="465.84" width="9.2" height="11.2" fill="#4bba8d"/>
<path d="M864.0 489.16H1015.0" stroke="#707074" stroke-width="1.9"/>
<rect x="878.8" y="483.56" width="9.2" height="11.2" fill="#0e867a"/>
<rect x="890.9" y="483.56" width="6.3" height="11.2" fill="#5c3d8d"/>
<rect x="898.1" y="483.56" width="9.2" height="11.2" fill="#938db5"/>
<rect x="910.3" y="483.56" width="13.3" height="11.2" fill="#a9d57e"/>
<rect x="925.3" y="483.56" width="26.4" height="11.2" fill="#6bb33c"/>
<rect x="954.3" y="483.56" width="18.6" height="11.2" fill="#fecb0e"/>
<rect x="977.2" y="483.56" width="12.8" height="11.2" fill="#f0577d"/>
<rect x="992.6" y="483.56" width="9.9" height="11.2" fill="#e80820"/>
<rect x="1003.6" y="483.56" width="9.2" height="11.2" fill="#4bba8d"/>
<path d="M864.0 506.88H1015.5" stroke="#707074" stroke-width="1.9"/>
<rect x="880.2" y="501.28" width="9.2" height="11.2" fill="#0e867a"/>
<rect x="891.6" y="501.28" width="6.3" height="11.2" fill="#5c3d8d"/>
<rect x="898.9" y="501.28" width="9.2" height="11.2" fill="#938db5"/>
<rect x="911.2" y="501.28" width="13.3" height="11.2" fill="#a9d57e"/>
<rect x="926.0" y="501.28" width="26.4" height="11.2" fill="#6bb33c"/>
<rect x="955.1" y="501.28" width="18.6" height="11.2" fill="#fecb0e"/>
<rect x="977.9" y="501.28" width="12.8" height="11.2" fill="#f0577d"/>
<rect x="993.2" y="501.28" width="9.9" height="11.2" fill="#e80820"/>
<rect x="1004.1" y="501.28" width="9.2" height="11.2" fill="#4bba8d"/>
<path d="M864.0 524.60H1015.5" stroke="#707074" stroke-width="1.9"/>
<rect x="880.2" y="519.00" width="9.2" height="11.2" fill="#0e867a"/>
<rect x="891.6" y="519.00" width="6.3" height="11.2" fill="#5c3d8d"/>
<rect x="898.9" y="519.00" width="9.2" height="11.2" fill="#938db5"/>
<rect x="911.2" y="519.00" width="13.3" height="11.2" fill="#a9d57e"/>
<rect x="926.0" y="519.00" width="26.4" height="11.2" fill="#6bb33c"/>
<rect x="955.1" y="519.00" width="18.6" height="11.2" fill="#fecb0e"/>
<rect x="977.9" y="519.00" width="12.8" height="11.2" fill="#f0577d"/>
<rect x="993.2" y="519.00" width="9.9" height="11.2" fill="#e80820"/>
<rect x="1004.1" y="519.00" width="9.2" height="11.2" fill="#4bba8d"/>
<path d="M864.0 542.32H1015.5" stroke="#707074" stroke-width="1.9"/>
<rect x="880.2" y="536.72" width="9.2" height="11.2" fill="#0e867a"/>
<rect x="891.6" y="536.72" width="6.3" height="11.2" fill="#5c3d8d"/>
<rect x="898.9" y="536.72" width="9.2" height="11.2" fill="#938db5"/>
<rect x="911.2" y="536.72" width="13.3" height="11.2" fill="#a9d57e"/>
<rect x="926.0" y="536.72" width="26.4" height="11.2" fill="#6bb33c"/>
<rect x="955.1" y="536.72" width="18.6" height="11.2" fill="#fecb0e"/>
<rect x="977.9" y="536.72" width="12.8" height="11.2" fill="#f0577d"/>
<rect x="993.2" y="536.72" width="9.9" height="11.2" fill="#e80820"/>
<rect x="1004.1" y="536.72" width="9.2" height="11.2" fill="#4bba8d"/>
<path d="M864.0 560.03H1019.3" stroke="#707074" stroke-width="1.9"/>
<rect x="880.2" y="554.43" width="9.2" height="11.2" fill="#0e867a"/>
<rect x="891.6" y="554.43" width="6.3" height="11.2" fill="#5c3d8d"/>
<rect x="898.9" y="554.43" width="9.2" height="11.2" fill="#938db5"/>
<rect x="911.2" y="554.43" width="13.3" height="11.2" fill="#a9d57e"/>
<rect x="926.0" y="554.43" width="26.4" height="11.2" fill="#6bb33c"/>
<rect x="955.1" y="554.43" width="18.6" height="11.2" fill="#fecb0e"/>
<rect x="977.9" y="554.43" width="12.8" height="11.2" fill="#f0577d"/>
<rect x="993.2" y="554.43" width="9.9" height="11.2" fill="#e80820"/>
<rect x="1004.1" y="554.43" width="9.2" height="11.2" fill="#4bba8d"/>
<path d="M864.0 577.75H1013.3" stroke="#707074" stroke-width="1.9"/>
<rect x="878.8" y="572.15" width="9.2" height="11.2" fill="#0e867a"/>
<rect x="890.9" y="572.15" width="6.3" height="11.2" fill="#5c3d8d"/>
<rect x="898.1" y="572.15" width="9.2" height="11.2" fill="#938db5"/>
<rect x="910.3" y="572.15" width="13.3" height="11.2" fill="#a9d57e"/>
<rect x="925.3" y="572.15" width="26.4" height="11.2" fill="#6bb33c"/>
<rect x="954.3" y="572.15" width="18.6" height="11.2" fill="#fecb0e"/>
<rect x="977.2" y="572.15" width="12.8" height="11.2" fill="#f0577d"/>
<rect x="992.6" y="572.15" width="9.9" height="11.2" fill="#e80820"/>
<path d="M864.0 595.47H993.9" stroke="#707074" stroke-width="1.9"/>
<rect x="878.8" y="589.87" width="9.2" height="11.2" fill="#0e867a"/>
<rect x="890.9" y="589.87" width="6.3" height="11.2" fill="#5c3d8d"/>
<rect x="905.7" y="589.87" width="26.4" height="11.2" fill="#6bb33c"/>
<rect x="934.8" y="589.87" width="18.6" height="11.2" fill="#fecb0e"/>
<rect x="957.8" y="589.87" width="12.8" height="11.2" fill="#f0577d"/>
<rect x="973.3" y="589.87" width="9.9" height="11.2" fill="#e80820"/>
<path d="M864.0 613.19H1013.3" stroke="#707074" stroke-width="1.9"/>
<rect x="878.8" y="607.59" width="9.2" height="11.2" fill="#0e867a"/>
<rect x="890.9" y="607.59" width="6.3" height="11.2" fill="#5c3d8d"/>
<rect x="898.1" y="607.59" width="9.2" height="11.2" fill="#938db5"/>
<rect x="910.3" y="607.59" width="13.3" height="11.2" fill="#a9d57e"/>
<rect x="925.3" y="607.59" width="26.4" height="11.2" fill="#6bb33c"/>
<rect x="954.3" y="607.59" width="18.6" height="11.2" fill="#fecb0e"/>
<rect x="977.2" y="607.59" width="12.8" height="11.2" fill="#f0577d"/>
<rect x="992.6" y="607.59" width="9.9" height="11.2" fill="#e80820"/>
<path d="M864.0 630.91H1013.3" stroke="#707074" stroke-width="1.9"/>
<rect x="878.8" y="625.31" width="9.2" height="11.2" fill="#0e867a"/>
<rect x="890.9" y="625.31" width="6.3" height="11.2" fill="#5c3d8d"/>
<rect x="898.1" y="625.31" width="9.2" height="11.2" fill="#938db5"/>
<rect x="910.3" y="625.31" width="13.3" height="11.2" fill="#a9d57e"/>
<rect x="925.3" y="625.31" width="26.4" height="11.2" fill="#6bb33c"/>
<rect x="954.3" y="625.31" width="18.6" height="11.2" fill="#fecb0e"/>
<rect x="977.2" y="625.31" width="12.8" height="11.2" fill="#f0577d"/>
<rect x="992.6" y="625.31" width="9.9" height="11.2" fill="#e80820"/>
<path d="M864.0 648.63H1011.8" stroke="#707074" stroke-width="1.9"/>
<rect x="880.2" y="643.03" width="9.2" height="11.2" fill="#0e867a"/>
<rect x="891.6" y="643.03" width="6.3" height="11.2" fill="#5c3d8d"/>
<rect x="898.9" y="643.03" width="9.2" height="11.2" fill="#938db5"/>
<rect x="911.2" y="643.03" width="13.3" height="11.2" fill="#a9d57e"/>
<rect x="926.0" y="643.03" width="26.4" height="11.2" fill="#6bb33c"/>
<rect x="955.1" y="643.03" width="18.6" height="11.2" fill="#fecb0e"/>
<rect x="977.9" y="643.03" width="12.8" height="11.2" fill="#f0577d"/>
<rect x="993.2" y="643.03" width="9.9" height="11.2" fill="#e80820"/>
<path d="M864.0 666.34H1050.1" stroke="#707074" stroke-width="1.9"/>
<rect x="888.7" y="660.74" width="18.6" height="11.2" fill="#0d66ca"/>
<rect x="915.6" y="660.74" width="9.2" height="11.2" fill="#0e867a"/>
<rect x="927.7" y="660.74" width="6.3" height="11.2" fill="#5c3d8d"/>
<rect x="934.7" y="660.74" width="9.2" height="11.2" fill="#938db5"/>
<rect x="947.1" y="660.74" width="13.3" height="11.2" fill="#a9d57e"/>
<rect x="962.1" y="660.74" width="26.4" height="11.2" fill="#6bb33c"/>
<rect x="991.2" y="660.74" width="18.6" height="11.2" fill="#fecb0e"/>
<rect x="1014.0" y="660.74" width="12.8" height="11.2" fill="#f0577d"/>
<rect x="1029.5" y="660.74" width="9.9" height="11.2" fill="#e80820"/>
<path d="M864.0 684.06H1013.3" stroke="#707074" stroke-width="1.9"/>
<rect x="878.8" y="678.46" width="9.2" height="11.2" fill="#0e867a"/>
<rect x="890.9" y="678.46" width="6.3" height="11.2" fill="#5c3d8d"/>
<rect x="898.1" y="678.46" width="9.2" height="11.2" fill="#938db5"/>
<rect x="910.3" y="678.46" width="13.3" height="11.2" fill="#a9d57e"/>
<rect x="925.3" y="678.46" width="26.4" height="11.2" fill="#6bb33c"/>
<rect x="954.3" y="678.46" width="18.6" height="11.2" fill="#fecb0e"/>
<rect x="977.2" y="678.46" width="12.8" height="11.2" fill="#f0577d"/>
<rect x="992.6" y="678.46" width="9.9" height="11.2" fill="#e80820"/>
<path d="M864.0 701.78H997.7" stroke="#707074" stroke-width="1.9"/>
<rect x="880.2" y="696.18" width="9.2" height="11.2" fill="#0e867a"/>
<rect x="892.1" y="696.18" width="6.3" height="11.2" fill="#5c3d8d"/>
<rect x="899.6" y="696.18" width="9.2" height="11.2" fill="#938db5"/>
<rect x="910.0" y="696.18" width="26.4" height="11.2" fill="#6bb33c"/>
<rect x="938.9" y="696.18" width="18.6" height="11.2" fill="#fecb0e"/>
<rect x="961.9" y="696.18" width="12.8" height="11.2" fill="#f0577d"/>
<rect x="977.2" y="696.18" width="9.9" height="11.2" fill="#e80820"/>
<path d="M864.0 719.50H993.2" stroke="#707074" stroke-width="1.9"/>
<rect x="875.4" y="713.90" width="9.2" height="11.2" fill="#0e867a"/>
<rect x="888.0" y="713.90" width="6.3" height="11.2" fill="#5c3d8d"/>
<rect x="895.5" y="713.90" width="9.2" height="11.2" fill="#938db5"/>
<rect x="908.5" y="713.90" width="13.3" height="11.2" fill="#a9d57e"/>
<rect x="923.1" y="713.90" width="26.4" height="11.2" fill="#6bb33c"/>
<rect x="954.4" y="713.90" width="12.8" height="11.2" fill="#f0577d"/>
<path d="M864.0 737.22H993.9" stroke="#707074" stroke-width="1.9"/>
<rect x="876.1" y="731.62" width="9.2" height="11.2" fill="#0e867a"/>
<rect x="888.7" y="731.62" width="6.3" height="11.2" fill="#5c3d8d"/>
<rect x="896.2" y="731.62" width="9.2" height="11.2" fill="#938db5"/>
<rect x="909.1" y="731.62" width="13.3" height="11.2" fill="#a9d57e"/>
<rect x="923.9" y="731.62" width="26.4" height="11.2" fill="#6bb33c"/>
<rect x="955.3" y="731.62" width="12.8" height="11.2" fill="#f0577d"/>
<path d="M864.0 754.94H1017.1" stroke="#707074" stroke-width="1.9"/>
<rect x="880.2" y="749.34" width="9.2" height="11.2" fill="#0e867a"/>
<rect x="901.0" y="749.34" width="9.2" height="11.2" fill="#938db5"/>
<rect x="927.4" y="749.34" width="26.4" height="11.2" fill="#6bb33c"/>
<rect x="954.6" y="749.34" width="18.6" height="11.2" fill="#fecb0e"/>
<rect x="977.2" y="749.34" width="12.8" height="11.2" fill="#f0577d"/>
<rect x="991.2" y="749.34" width="9.9" height="11.2" fill="#e80820"/>
<rect x="1001.8" y="749.34" width="9.2" height="11.2" fill="#4bba8d"/>
<path d="M864.0 772.66H1017.1" stroke="#707074" stroke-width="1.9"/>
<rect x="880.2" y="767.06" width="9.2" height="11.2" fill="#0e867a"/>
<rect x="901.0" y="767.06" width="9.2" height="11.2" fill="#938db5"/>
<rect x="927.4" y="767.06" width="26.4" height="11.2" fill="#6bb33c"/>
<rect x="954.6" y="767.06" width="18.6" height="11.2" fill="#fecb0e"/>
<rect x="977.2" y="767.06" width="12.8" height="11.2" fill="#f0577d"/>
<rect x="991.2" y="767.06" width="9.9" height="11.2" fill="#e80820"/>
<rect x="1001.8" y="767.06" width="9.2" height="11.2" fill="#4bba8d"/>
<path d="M864.0 790.37H1012.5" stroke="#707074" stroke-width="1.9"/>
<rect x="881.6" y="784.77" width="9.2" height="11.2" fill="#0e867a"/>
<rect x="898.1" y="784.77" width="9.2" height="11.2" fill="#938db5"/>
<rect x="910.3" y="784.77" width="13.3" height="11.2" fill="#a9d57e"/>
<rect x="925.3" y="784.77" width="26.4" height="11.2" fill="#6bb33c"/>
<rect x="952.7" y="784.77" width="18.6" height="11.2" fill="#fecb0e"/>
<rect x="990.5" y="784.77" width="9.9" height="11.2" fill="#e80820"/>
<rect x="1001.1" y="784.77" width="9.2" height="11.2" fill="#4bba8d"/>
<path d="M864.0 808.09H1019.3" stroke="#707074" stroke-width="1.9"/>
<rect x="888.2" y="802.49" width="9.2" height="11.2" fill="#0e867a"/>
<rect x="904.7" y="802.49" width="9.2" height="11.2" fill="#938db5"/>
<rect x="916.8" y="802.49" width="13.3" height="11.2" fill="#a9d57e"/>
<rect x="932.0" y="802.49" width="26.4" height="11.2" fill="#6bb33c"/>
<rect x="959.4" y="802.49" width="18.6" height="11.2" fill="#fecb0e"/>
<rect x="997.2" y="802.49" width="9.9" height="11.2" fill="#e80820"/>
<rect x="1007.9" y="802.49" width="9.2" height="11.2" fill="#4bba8d"/>
<path d="M864.0 825.81H1009.1" stroke="#707074" stroke-width="1.9"/>
<rect x="878.0" y="820.21" width="9.2" height="11.2" fill="#0e867a"/>
<rect x="894.7" y="820.21" width="9.2" height="11.2" fill="#938db5"/>
<rect x="906.9" y="820.21" width="13.3" height="11.2" fill="#a9d57e"/>
<rect x="921.9" y="820.21" width="26.4" height="11.2" fill="#6bb33c"/>
<rect x="949.1" y="820.21" width="18.6" height="11.2" fill="#fecb0e"/>
<rect x="972.0" y="820.21" width="12.8" height="11.2" fill="#f0577d"/>
<rect x="987.3" y="820.21" width="9.9" height="11.2" fill="#e80820"/>
<rect x="997.8" y="820.21" width="9.2" height="11.2" fill="#4bba8d"/>
<path d="M864.0 843.53H1009.1" stroke="#707074" stroke-width="1.9"/>
<rect x="878.0" y="837.93" width="9.2" height="11.2" fill="#0e867a"/>
<rect x="894.7" y="837.93" width="9.2" height="11.2" fill="#938db5"/>
<rect x="906.9" y="837.93" width="13.3" height="11.2" fill="#a9d57e"/>
<rect x="921.9" y="837.93" width="26.4" height="11.2" fill="#6bb33c"/>
<rect x="949.1" y="837.93" width="18.6" height="11.2" fill="#fecb0e"/>
<rect x="972.0" y="837.93" width="12.8" height="11.2" fill="#f0577d"/>
<rect x="987.3" y="837.93" width="9.9" height="11.2" fill="#e80820"/>
<rect x="997.8" y="837.93" width="9.2" height="11.2" fill="#4bba8d"/>
<path d="M864.0 861.25H1009.1" stroke="#707074" stroke-width="1.9"/>
<rect x="878.0" y="855.65" width="9.2" height="11.2" fill="#0e867a"/>
<rect x="894.7" y="855.65" width="9.2" height="11.2" fill="#938db5"/>
<rect x="906.9" y="855.65" width="13.3" height="11.2" fill="#a9d57e"/>
<rect x="921.9" y="855.65" width="26.4" height="11.2" fill="#6bb33c"/>
<rect x="949.1" y="855.65" width="18.6" height="11.2" fill="#fecb0e"/>
<rect x="972.0" y="855.65" width="12.8" height="11.2" fill="#f0577d"/>
<rect x="987.3" y="855.65" width="9.9" height="11.2" fill="#e80820"/>
<rect x="997.8" y="855.65" width="9.2" height="11.2" fill="#4bba8d"/>
<path d="M864.0 878.97H1009.1" stroke="#707074" stroke-width="1.9"/>
<rect x="878.0" y="873.37" width="9.2" height="11.2" fill="#0e867a"/>
<rect x="894.7" y="873.37" width="9.2" height="11.2" fill="#938db5"/>
<rect x="906.9" y="873.37" width="13.3" height="11.2" fill="#a9d57e"/>
<rect x="921.9" y="873.37" width="26.4" height="11.2" fill="#6bb33c"/>
<rect x="949.1" y="873.37" width="18.6" height="11.2" fill="#fecb0e"/>
<rect x="972.0" y="873.37" width="12.8" height="11.2" fill="#f0577d"/>
<rect x="987.3" y="873.37" width="9.9" height="11.2" fill="#e80820"/>
<rect x="997.8" y="873.37" width="9.2" height="11.2" fill="#4bba8d"/>
<path d="M864.0 896.68H1004.5" stroke="#707074" stroke-width="1.9"/>
<rect x="872.7" y="891.08" width="9.2" height="11.2" fill="#0e867a"/>
<rect x="890.9" y="891.08" width="9.2" height="11.2" fill="#938db5"/>
<rect x="902.2" y="891.08" width="13.3" height="11.2" fill="#a9d57e"/>
<rect x="917.1" y="891.08" width="26.4" height="11.2" fill="#6bb33c"/>
<rect x="944.4" y="891.08" width="18.6" height="11.2" fill="#fecb0e"/>
<rect x="967.2" y="891.08" width="12.8" height="11.2" fill="#f0577d"/>
<rect x="982.0" y="891.08" width="8.7" height="11.2" fill="#b07a45"/>
<rect x="991.9" y="891.08" width="9.2" height="11.2" fill="#4bba8d"/>
<path d="M864.0 914.40H1004.5" stroke="#707074" stroke-width="1.9"/>
<rect x="872.7" y="908.80" width="9.2" height="11.2" fill="#0e867a"/>
<rect x="890.9" y="908.80" width="9.2" height="11.2" fill="#938db5"/>
<rect x="902.2" y="908.80" width="13.3" height="11.2" fill="#a9d57e"/>
<rect x="917.1" y="908.80" width="26.4" height="11.2" fill="#6bb33c"/>
<rect x="944.4" y="908.80" width="18.6" height="11.2" fill="#fecb0e"/>
<rect x="967.2" y="908.80" width="12.8" height="11.2" fill="#f0577d"/>
<rect x="982.0" y="908.80" width="8.7" height="11.2" fill="#b07a45"/>
<rect x="991.9" y="908.80" width="9.2" height="11.2" fill="#4bba8d"/>
<path d="M864.0 932.12H1011.1" stroke="#707074" stroke-width="1.9"/>
<rect x="872.7" y="926.52" width="9.2" height="11.2" fill="#0e867a"/>
<rect x="890.9" y="926.52" width="9.2" height="11.2" fill="#938db5"/>
<rect x="902.2" y="926.52" width="13.3" height="11.2" fill="#a9d57e"/>
<rect x="917.1" y="926.52" width="26.4" height="11.2" fill="#6bb33c"/>
<rect x="944.4" y="926.52" width="18.6" height="11.2" fill="#fecb0e"/>
<rect x="967.2" y="926.52" width="12.8" height="11.2" fill="#f0577d"/>
<rect x="982.0" y="926.52" width="8.7" height="11.2" fill="#b07a45"/>
<rect x="991.9" y="926.52" width="9.2" height="11.2" fill="#4bba8d"/>
<path d="M864.0 949.84H1011.1" stroke="#707074" stroke-width="1.9"/>
<rect x="872.7" y="944.24" width="9.2" height="11.2" fill="#0e867a"/>
<rect x="890.9" y="944.24" width="9.2" height="11.2" fill="#938db5"/>
<rect x="902.2" y="944.24" width="13.3" height="11.2" fill="#a9d57e"/>
<rect x="917.1" y="944.24" width="26.4" height="11.2" fill="#6bb33c"/>
<rect x="944.4" y="944.24" width="18.6" height="11.2" fill="#fecb0e"/>
<rect x="967.2" y="944.24" width="12.8" height="11.2" fill="#f0577d"/>
<rect x="982.0" y="944.24" width="8.7" height="11.2" fill="#b07a45"/>
<rect x="991.9" y="944.24" width="9.2" height="11.2" fill="#4bba8d"/>
<path d="M864.0 967.56H1007.7" stroke="#707074" stroke-width="1.9"/>
<rect x="875.4" y="961.96" width="9.2" height="11.2" fill="#0e867a"/>
<rect x="893.8" y="961.96" width="9.2" height="11.2" fill="#938db5"/>
<rect x="905.6" y="961.96" width="13.3" height="11.2" fill="#a9d57e"/>
<rect x="920.4" y="961.96" width="26.4" height="11.2" fill="#6bb33c"/>
<rect x="947.8" y="961.96" width="18.6" height="11.2" fill="#fecb0e"/>
<rect x="970.6" y="961.96" width="12.8" height="11.2" fill="#f0577d"/>
<rect x="985.4" y="961.96" width="8.7" height="11.2" fill="#b07a45"/>
<rect x="995.5" y="961.96" width="9.2" height="11.2" fill="#4bba8d"/>
<path d="M864.0 985.28H1007.7" stroke="#707074" stroke-width="1.9"/>
<rect x="875.4" y="979.68" width="9.2" height="11.2" fill="#0e867a"/>
<rect x="893.8" y="979.68" width="9.2" height="11.2" fill="#938db5"/>
<rect x="905.6" y="979.68" width="13.3" height="11.2" fill="#a9d57e"/>
<rect x="920.4" y="979.68" width="26.4" height="11.2" fill="#6bb33c"/>
<rect x="947.8" y="979.68" width="18.6" height="11.2" fill="#fecb0e"/>
<rect x="970.6" y="979.68" width="12.8" height="11.2" fill="#f0577d"/>
<rect x="985.4" y="979.68" width="8.7" height="11.2" fill="#b07a45"/>
<rect x="995.5" y="979.68" width="9.2" height="11.2" fill="#4bba8d"/>
<path d="M864.0 1002.99H1012.8" stroke="#707074" stroke-width="1.9"/>
<rect x="875.4" y="997.39" width="9.2" height="11.2" fill="#0e867a"/>
<rect x="893.8" y="997.39" width="9.2" height="11.2" fill="#938db5"/>
<rect x="905.6" y="997.39" width="13.3" height="11.2" fill="#a9d57e"/>
<rect x="920.4" y="997.39" width="26.4" height="11.2" fill="#6bb33c"/>
<rect x="947.8" y="997.39" width="18.6" height="11.2" fill="#fecb0e"/>
<rect x="970.6" y="997.39" width="12.8" height="11.2" fill="#f0577d"/>
<rect x="985.4" y="997.39" width="8.7" height="11.2" fill="#b07a45"/>
<rect x="995.5" y="997.39" width="9.2" height="11.2" fill="#4bba8d"/>
<path d="M864.0 1020.71H1007.0" stroke="#707074" stroke-width="1.9"/>
<rect x="874.9" y="1015.11" width="9.2" height="11.2" fill="#0e867a"/>
<rect x="893.1" y="1015.11" width="9.2" height="11.2" fill="#938db5"/>
<rect x="904.9" y="1015.11" width="13.3" height="11.2" fill="#a9d57e"/>
<rect x="919.9" y="1015.11" width="26.4" height="11.2" fill="#6bb33c"/>
<rect x="947.1" y="1015.11" width="18.6" height="11.2" fill="#fecb0e"/>
<rect x="969.9" y="1015.11" width="12.8" height="11.2" fill="#f0577d"/>
<rect x="984.7" y="1015.11" width="8.7" height="11.2" fill="#b07a45"/>
<rect x="994.8" y="1015.11" width="9.2" height="11.2" fill="#4bba8d"/>
<path d="M864.0 1038.43H1007.0" stroke="#707074" stroke-width="1.9"/>
<rect x="874.9" y="1032.83" width="9.2" height="11.2" fill="#0e867a"/>
<rect x="893.1" y="1032.83" width="9.2" height="11.2" fill="#938db5"/>
<rect x="904.9" y="1032.83" width="13.3" height="11.2" fill="#a9d57e"/>
<rect x="919.9" y="1032.83" width="26.4" height="11.2" fill="#6bb33c"/>
<rect x="947.1" y="1032.83" width="18.6" height="11.2" fill="#fecb0e"/>
<rect x="969.9" y="1032.83" width="12.8" height="11.2" fill="#f0577d"/>
<rect x="984.7" y="1032.83" width="8.7" height="11.2" fill="#b07a45"/>
<rect x="994.8" y="1032.83" width="9.2" height="11.2" fill="#4bba8d"/>
<path d="M864.0 1056.15H1007.0" stroke="#707074" stroke-width="1.9"/>
<rect x="874.9" y="1050.55" width="9.2" height="11.2" fill="#0e867a"/>
<rect x="893.1" y="1050.55" width="9.2" height="11.2" fill="#938db5"/>
<rect x="904.9" y="1050.55" width="13.3" height="11.2" fill="#a9d57e"/>
<rect x="919.9" y="1050.55" width="26.4" height="11.2" fill="#6bb33c"/>
<rect x="947.1" y="1050.55" width="18.6" height="11.2" fill="#fecb0e"/>
<rect x="969.9" y="1050.55" width="12.8" height="11.2" fill="#f0577d"/>
<rect x="984.7" y="1050.55" width="8.7" height="11.2" fill="#b07a45"/>
<rect x="994.8" y="1050.55" width="9.2" height="11.2" fill="#4bba8d"/>
<path d="M864.0 1073.87H1007.0" stroke="#707074" stroke-width="1.9"/>
<rect x="874.9" y="1068.27" width="9.2" height="11.2" fill="#0e867a"/>
<rect x="893.1" y="1068.27" width="9.2" height="11.2" fill="#938db5"/>
<rect x="904.9" y="1068.27" width="13.3" height="11.2" fill="#a9d57e"/>
<rect x="919.9" y="1068.27" width="26.4" height="11.2" fill="#6bb33c"/>
<rect x="947.1" y="1068.27" width="18.6" height="11.2" fill="#fecb0e"/>
<rect x="969.9" y="1068.27" width="12.8" height="11.2" fill="#f0577d"/>
<rect x="984.7" y="1068.27" width="8.7" height="11.2" fill="#b07a45"/>
<rect x="994.8" y="1068.27" width="9.2" height="11.2" fill="#4bba8d"/>
<path d="M864.0 1091.59H1007.0" stroke="#707074" stroke-width="1.9"/>
<rect x="874.9" y="1085.99" width="9.2" height="11.2" fill="#0e867a"/>
<rect x="893.1" y="1085.99" width="9.2" height="11.2" fill="#938db5"/>
<rect x="904.9" y="1085.99" width="13.3" height="11.2" fill="#a9d57e"/>
<rect x="919.9" y="1085.99" width="26.4" height="11.2" fill="#6bb33c"/>
<rect x="947.1" y="1085.99" width="18.6" height="11.2" fill="#fecb0e"/>
<rect x="969.9" y="1085.99" width="12.8" height="11.2" fill="#f0577d"/>
<rect x="984.7" y="1085.99" width="8.7" height="11.2" fill="#b07a45"/>
<rect x="994.8" y="1085.99" width="9.2" height="11.2" fill="#4bba8d"/>
<path d="M864.0 1109.31H1007.0" stroke="#707074" stroke-width="1.9"/>
<rect x="874.9" y="1103.71" width="9.2" height="11.2" fill="#0e867a"/>
<rect x="893.1" y="1103.71" width="9.2" height="11.2" fill="#938db5"/>
<rect x="904.9" y="1103.71" width="13.3" height="11.2" fill="#a9d57e"/>
<rect x="919.9" y="1103.71" width="26.4" height="11.2" fill="#6bb33c"/>
<rect x="947.1" y="1103.71" width="18.6" height="11.2" fill="#fecb0e"/>
<rect x="969.9" y="1103.71" width="12.8" height="11.2" fill="#f0577d"/>
<rect x="984.7" y="1103.71" width="8.7" height="11.2" fill="#b07a45"/>
<rect x="994.8" y="1103.71" width="9.2" height="11.2" fill="#4bba8d"/>
<path d="M864.0 1127.02H1007.0" stroke="#707074" stroke-width="1.9"/>
<rect x="874.9" y="1121.42" width="9.2" height="11.2" fill="#0e867a"/>
<rect x="893.1" y="1121.42" width="9.2" height="11.2" fill="#938db5"/>
<rect x="904.9" y="1121.42" width="13.3" height="11.2" fill="#a9d57e"/>
<rect x="919.9" y="1121.42" width="26.4" height="11.2" fill="#6bb33c"/>
<rect x="947.1" y="1121.42" width="18.6" height="11.2" fill="#fecb0e"/>
<rect x="969.9" y="1121.42" width="12.8" height="11.2" fill="#f0577d"/>
<rect x="984.7" y="1121.42" width="8.7" height="11.2" fill="#b07a45"/>
<rect x="994.8" y="1121.42" width="9.2" height="11.2" fill="#4bba8d"/>
<path d="M864.0 1144.74H1002.4" stroke="#707074" stroke-width="1.9"/>
<rect x="876.1" y="1139.14" width="9.2" height="11.2" fill="#0e867a"/>
<rect x="888.0" y="1139.14" width="6.3" height="11.2" fill="#5c3d8d"/>
<rect x="895.5" y="1139.14" width="9.2" height="11.2" fill="#938db5"/>
<rect x="907.6" y="1139.14" width="13.3" height="11.2" fill="#a9d57e"/>
<rect x="922.6" y="1139.14" width="26.4" height="11.2" fill="#6bb33c"/>
<rect x="949.8" y="1139.14" width="18.6" height="11.2" fill="#fecb0e"/>
<rect x="972.6" y="1139.14" width="12.8" height="11.2" fill="#f0577d"/>
<path d="M864.0 1162.46H1002.4" stroke="#707074" stroke-width="1.9"/>
<rect x="876.1" y="1156.86" width="9.2" height="11.2" fill="#0e867a"/>
<rect x="888.0" y="1156.86" width="6.3" height="11.2" fill="#5c3d8d"/>
<rect x="895.5" y="1156.86" width="9.2" height="11.2" fill="#938db5"/>
<rect x="907.6" y="1156.86" width="13.3" height="11.2" fill="#a9d57e"/>
<rect x="922.6" y="1156.86" width="26.4" height="11.2" fill="#6bb33c"/>
<rect x="949.8" y="1156.86" width="18.6" height="11.2" fill="#fecb0e"/>
<rect x="972.6" y="1156.86" width="12.8" height="11.2" fill="#f0577d"/>
<path d="M864.0 1180.18H1236.5" stroke="#707074" stroke-width="1.9"/>
<rect x="925.1" y="1174.58" width="18.4" height="11.2" fill="#858a70"/>
<rect x="1072.4" y="1174.58" width="26.4" height="11.2" fill="#6bb33c"/>
<rect x="1111.7" y="1174.58" width="13.1" height="11.2" fill="#5e0508"/>
<rect x="1142.5" y="1174.58" width="9.9" height="11.2" fill="#e80820"/>
<rect x="1208.8" y="1174.58" width="18.4" height="11.2" fill="#6a8023"/>
<path d="M864.0 1197.90H1251.8" stroke="#707074" stroke-width="1.9"/>
<rect x="927.0" y="1192.30" width="18.4" height="11.2" fill="#858a70"/>
<rect x="1032.1" y="1192.30" width="18.4" height="11.2" fill="#6a8023"/>
<rect x="1073.1" y="1192.30" width="26.4" height="11.2" fill="#6bb33c"/>
<rect x="1112.4" y="1192.30" width="13.1" height="11.2" fill="#5e0508"/>
<rect x="1143.1" y="1192.30" width="9.9" height="11.2" fill="#e80820"/>
<rect x="1162.5" y="1192.30" width="18.4" height="11.2" fill="#6a8023"/>
<rect x="1224.3" y="1192.30" width="18.4" height="11.2" fill="#6a8023"/>
<path d="M864.0 1215.62H1197.0" stroke="#707074" stroke-width="1.9"/>
<rect x="923.6" y="1210.02" width="18.4" height="11.2" fill="#858a70"/>
<rect x="1061.0" y="1210.02" width="26.4" height="11.2" fill="#6bb33c"/>
<rect x="1101.7" y="1210.02" width="13.1" height="11.2" fill="#5e0508"/>
<rect x="1132.3" y="1210.02" width="9.9" height="11.2" fill="#e80820"/>
<rect x="1166.7" y="1210.02" width="18.4" height="11.2" fill="#6a8023"/>
<path d="M864.0 1233.33H1272.3" stroke="#707074" stroke-width="1.9"/>
<rect x="908.3" y="1227.73" width="18.4" height="11.2" fill="#858a70"/>
<rect x="927.9" y="1227.73" width="24.9" height="11.2" fill="#fba21b"/>
<rect x="1023.4" y="1227.73" width="26.4" height="11.2" fill="#6bb33c"/>
<rect x="1061.5" y="1227.73" width="13.1" height="11.2" fill="#5e0508"/>
<rect x="1092.2" y="1227.73" width="9.9" height="11.2" fill="#e80820"/>
<rect x="1156.0" y="1227.73" width="18.4" height="11.2" fill="#6a8023"/>
<rect x="1176.8" y="1227.73" width="18.4" height="11.2" fill="#6a8023"/>
<rect x="1202.8" y="1227.73" width="18.4" height="11.2" fill="#6a8023"/>
<rect x="1238.9" y="1227.73" width="18.4" height="11.2" fill="#6a8023"/>
<path d="M864.0 1251.05H1302.4" stroke="#707074" stroke-width="1.9"/>
<rect x="908.3" y="1245.45" width="18.4" height="11.2" fill="#858a70"/>
<rect x="927.9" y="1245.45" width="24.9" height="11.2" fill="#fba21b"/>
<rect x="1023.4" y="1245.45" width="26.4" height="11.2" fill="#6bb33c"/>
<rect x="1061.5" y="1245.45" width="13.1" height="11.2" fill="#5e0508"/>
<rect x="1092.2" y="1245.45" width="9.9" height="11.2" fill="#e80820"/>
<rect x="1133.9" y="1245.45" width="18.4" height="11.2" fill="#6a8023"/>
<rect x="1160.1" y="1245.45" width="18.4" height="11.2" fill="#6a8023"/>
<rect x="1180.8" y="1245.45" width="18.4" height="11.2" fill="#6a8023"/>
<rect x="1206.9" y="1245.45" width="18.4" height="11.2" fill="#6a8023"/>
<rect x="1245.0" y="1245.45" width="18.4" height="11.2" fill="#6a8023"/>
<rect x="1270.2" y="1245.45" width="18.4" height="11.2" fill="#6a8023"/>
<path d="M864.0 1268.77H1181.7" stroke="#707074" stroke-width="1.9"/>
<rect x="920.9" y="1263.17" width="18.4" height="11.2" fill="#858a70"/>
<rect x="940.1" y="1263.17" width="24.9" height="11.2" fill="#fba21b"/>
<rect x="984.4" y="1263.17" width="9.9" height="11.2" fill="#e80820"/>
<rect x="1075.8" y="1263.17" width="26.4" height="11.2" fill="#6bb33c"/>
<rect x="1111.0" y="1263.17" width="13.1" height="11.2" fill="#5e0508"/>
<rect x="1141.9" y="1263.17" width="9.9" height="11.2" fill="#e80820"/>
<path d="M864.0 1286.49H1177.8" stroke="#707074" stroke-width="1.9"/>
<rect x="881.4" y="1280.89" width="26.4" height="11.2" fill="#ef87a8"/>
<rect x="917.0" y="1280.89" width="18.4" height="11.2" fill="#858a70"/>
<rect x="936.2" y="1280.89" width="24.9" height="11.2" fill="#fba21b"/>
<rect x="980.5" y="1280.89" width="9.9" height="11.2" fill="#e80820"/>
<rect x="1071.7" y="1280.89" width="26.4" height="11.2" fill="#6bb33c"/>
<rect x="1107.0" y="1280.89" width="13.1" height="11.2" fill="#5e0508"/>
<rect x="1137.8" y="1280.89" width="9.9" height="11.2" fill="#e80820"/>
<path d="M864.0 1304.21H1190.0" stroke="#707074" stroke-width="1.9"/>
<rect x="884.1" y="1298.61" width="18.6" height="11.2" fill="#0d66ca"/>
<rect x="931.8" y="1298.61" width="18.4" height="11.2" fill="#858a70"/>
<rect x="995.3" y="1298.61" width="9.9" height="11.2" fill="#e80820"/>
<rect x="1066.4" y="1298.61" width="26.4" height="11.2" fill="#6bb33c"/>
<rect x="1118.5" y="1298.61" width="13.1" height="11.2" fill="#5e0508"/>
<path d="M864.0 1321.93H1191.4" stroke="#707074" stroke-width="1.9"/>
<rect x="884.1" y="1316.33" width="18.6" height="11.2" fill="#0d66ca"/>
<rect x="931.8" y="1316.33" width="18.4" height="11.2" fill="#858a70"/>
<rect x="995.3" y="1316.33" width="9.9" height="11.2" fill="#e80820"/>
<rect x="1067.8" y="1316.33" width="26.4" height="11.2" fill="#6bb33c"/>
<rect x="1119.9" y="1316.33" width="13.1" height="11.2" fill="#5e0508"/>
<path d="M864.0 1339.64H1175.2" stroke="#707074" stroke-width="1.9"/>
<rect x="886.8" y="1334.04" width="18.6" height="11.2" fill="#0d66ca"/>
<rect x="911.0" y="1334.04" width="18.4" height="11.2" fill="#858a70"/>
<rect x="952.2" y="1334.04" width="24.9" height="11.2" fill="#fba21b"/>
<rect x="978.1" y="1334.04" width="20.3" height="11.2" fill="#c5060f"/>
<rect x="1007.4" y="1334.04" width="9.9" height="11.2" fill="#e80820"/>
<rect x="1044.3" y="1334.04" width="26.4" height="11.2" fill="#ef87a8"/>
<rect x="1075.0" y="1334.04" width="26.4" height="11.2" fill="#6bb33c"/>
<rect x="1113.1" y="1334.04" width="18.4" height="11.2" fill="#858a70"/>
<rect x="1139.8" y="1334.04" width="9.9" height="11.2" fill="#e80820"/>
<path d="M864.0 1357.36H1171.1" stroke="#707074" stroke-width="1.9"/>
<rect x="886.8" y="1351.76" width="18.6" height="11.2" fill="#0d66ca"/>
<rect x="911.0" y="1351.76" width="18.4" height="11.2" fill="#858a70"/>
<rect x="948.3" y="1351.76" width="24.9" height="11.2" fill="#fba21b"/>
<rect x="974.0" y="1351.76" width="20.3" height="11.2" fill="#c5060f"/>
<rect x="1003.1" y="1351.76" width="9.9" height="11.2" fill="#e80820"/>
<rect x="1040.2" y="1351.76" width="26.4" height="11.2" fill="#ef87a8"/>
<rect x="1070.9" y="1351.76" width="26.4" height="11.2" fill="#6bb33c"/>
<rect x="1109.0" y="1351.76" width="18.4" height="11.2" fill="#858a70"/>
<rect x="1135.7" y="1351.76" width="9.9" height="11.2" fill="#e80820"/>
<path d="M864.0 1375.08H1175.2" stroke="#707074" stroke-width="1.9"/>
<rect x="886.8" y="1369.48" width="18.6" height="11.2" fill="#0d66ca"/>
<rect x="911.0" y="1369.48" width="18.4" height="11.2" fill="#858a70"/>
<rect x="951.5" y="1369.48" width="24.9" height="11.2" fill="#fba21b"/>
<rect x="977.2" y="1369.48" width="20.3" height="11.2" fill="#c5060f"/>
<rect x="1006.5" y="1369.48" width="9.9" height="11.2" fill="#e80820"/>
<rect x="1044.3" y="1369.48" width="26.4" height="11.2" fill="#ef87a8"/>
<rect x="1075.0" y="1369.48" width="26.4" height="11.2" fill="#6bb33c"/>
<rect x="1113.1" y="1369.48" width="18.4" height="11.2" fill="#858a70"/>
<rect x="1139.8" y="1369.48" width="9.9" height="11.2" fill="#e80820"/>
<path d="M864.0 1392.80H1171.8" stroke="#707074" stroke-width="1.9"/>
<rect x="886.2" y="1387.20" width="18.6" height="11.2" fill="#0d66ca"/>
<rect x="910.3" y="1387.20" width="18.4" height="11.2" fill="#858a70"/>
<rect x="947.1" y="1387.20" width="24.9" height="11.2" fill="#fba21b"/>
<rect x="972.6" y="1387.20" width="20.3" height="11.2" fill="#c5060f"/>
<rect x="1001.9" y="1387.20" width="9.9" height="11.2" fill="#e80820"/>
<rect x="1012.5" y="1387.20" width="9.2" height="11.2" fill="#4bba8d"/>
<rect x="1041.6" y="1387.20" width="26.4" height="11.2" fill="#ef87a8"/>
<rect x="1072.2" y="1387.20" width="26.4" height="11.2" fill="#6bb33c"/>
<rect x="1110.4" y="1387.20" width="18.4" height="11.2" fill="#858a70"/>
<rect x="1137.1" y="1387.20" width="9.9" height="11.2" fill="#e80820"/>
<path d="M864.0 1410.52H1180.7" stroke="#707074" stroke-width="1.9"/>
<rect x="894.8" y="1404.92" width="18.6" height="11.2" fill="#0d66ca"/>
<rect x="919.0" y="1404.92" width="18.4" height="11.2" fill="#858a70"/>
<rect x="955.8" y="1404.92" width="24.9" height="11.2" fill="#fba21b"/>
<rect x="981.5" y="1404.92" width="20.3" height="11.2" fill="#c5060f"/>
<rect x="1010.6" y="1404.92" width="9.9" height="11.2" fill="#e80820"/>
<rect x="1021.3" y="1404.92" width="9.2" height="11.2" fill="#4bba8d"/>
<rect x="1050.3" y="1404.92" width="26.4" height="11.2" fill="#ef87a8"/>
<rect x="1080.9" y="1404.92" width="26.4" height="11.2" fill="#6bb33c"/>
<rect x="1119.0" y="1404.92" width="18.4" height="11.2" fill="#858a70"/>
<rect x="1145.8" y="1404.92" width="9.9" height="11.2" fill="#e80820"/>
<path d="M864.0 1428.24H1196.0" stroke="#707074" stroke-width="1.9"/>
<rect x="880.2" y="1422.64" width="26.4" height="11.2" fill="#ef87a8"/>
<rect x="915.8" y="1422.64" width="18.4" height="11.2" fill="#858a70"/>
<rect x="966.5" y="1422.64" width="24.9" height="11.2" fill="#fba21b"/>
<rect x="992.2" y="1422.64" width="20.3" height="11.2" fill="#c5060f"/>
<rect x="1020.5" y="1422.64" width="9.9" height="11.2" fill="#e80820"/>
<rect x="1031.5" y="1422.64" width="9.2" height="11.2" fill="#4bba8d"/>
<rect x="1065.6" y="1422.64" width="26.4" height="11.2" fill="#ef87a8"/>
<rect x="1096.1" y="1422.64" width="26.4" height="11.2" fill="#6bb33c"/>
<rect x="1131.6" y="1422.64" width="13.1" height="11.2" fill="#5e0508"/>
<rect x="1160.4" y="1422.64" width="9.9" height="11.2" fill="#e80820"/>
<path d="M864.0 1445.96H1193.3" stroke="#707074" stroke-width="1.9"/>
<rect x="880.2" y="1440.36" width="26.4" height="11.2" fill="#ef87a8"/>
<rect x="915.8" y="1440.36" width="18.4" height="11.2" fill="#858a70"/>
<rect x="964.5" y="1440.36" width="24.9" height="11.2" fill="#fba21b"/>
<rect x="990.2" y="1440.36" width="20.3" height="11.2" fill="#c5060f"/>
<rect x="1017.2" y="1440.36" width="9.9" height="11.2" fill="#e80820"/>
<rect x="1062.2" y="1440.36" width="26.4" height="11.2" fill="#ef87a8"/>
<rect x="1092.8" y="1440.36" width="26.4" height="11.2" fill="#6bb33c"/>
<rect x="1131.1" y="1440.36" width="18.4" height="11.2" fill="#858a70"/>
<rect x="1157.9" y="1440.36" width="9.9" height="11.2" fill="#e80820"/>
<path d="M864.0 1463.67H1183.9" stroke="#707074" stroke-width="1.9"/>
<rect x="880.2" y="1458.07" width="26.4" height="11.2" fill="#ef87a8"/>
<rect x="915.8" y="1458.07" width="18.4" height="11.2" fill="#858a70"/>
<rect x="955.1" y="1458.07" width="24.9" height="11.2" fill="#fba21b"/>
<rect x="980.8" y="1458.07" width="20.3" height="11.2" fill="#c5060f"/>
<rect x="1007.9" y="1458.07" width="9.9" height="11.2" fill="#e80820"/>
<rect x="1053.0" y="1458.07" width="26.4" height="11.2" fill="#ef87a8"/>
<rect x="1083.5" y="1458.07" width="26.4" height="11.2" fill="#6bb33c"/>
<rect x="1121.4" y="1458.07" width="18.4" height="11.2" fill="#858a70"/>
<rect x="1148.3" y="1458.07" width="9.9" height="11.2" fill="#e80820"/>
<path d="M864.0 1481.39H983.0" stroke="#707074" stroke-width="1.9"/>
<rect x="890.1" y="1475.79" width="26.4" height="11.2" fill="#ef87a8"/>
<rect x="920.7" y="1475.79" width="26.4" height="11.2" fill="#6bb33c"/>
<path d="M864.0 1499.11H1164.7" stroke="#707074" stroke-width="1.9"/>
<rect x="879.7" y="1493.51" width="26.4" height="11.2" fill="#ef87a8"/>
<rect x="914.9" y="1493.51" width="18.4" height="11.2" fill="#858a70"/>
<rect x="949.8" y="1493.51" width="24.9" height="11.2" fill="#fba21b"/>
<rect x="975.4" y="1493.51" width="20.3" height="11.2" fill="#c5060f"/>
<rect x="1004.0" y="1493.51" width="9.9" height="11.2" fill="#e80820"/>
<rect x="1014.5" y="1493.51" width="9.2" height="11.2" fill="#4bba8d"/>
<rect x="1040.7" y="1493.51" width="26.4" height="11.2" fill="#ef87a8"/>
<rect x="1071.6" y="1493.51" width="26.4" height="11.2" fill="#6bb33c"/>
<rect x="1107.0" y="1493.51" width="13.1" height="11.2" fill="#5e0508"/>
<rect x="1136.6" y="1493.51" width="9.9" height="11.2" fill="#e80820"/>
<path d="M864.0 1516.83H1198.2" stroke="#707074" stroke-width="1.9"/>
<rect x="879.7" y="1511.23" width="26.4" height="11.2" fill="#ef87a8"/>
<rect x="914.9" y="1511.23" width="18.4" height="11.2" fill="#858a70"/>
<rect x="949.8" y="1511.23" width="24.9" height="11.2" fill="#fba21b"/>
<rect x="975.4" y="1511.23" width="20.3" height="11.2" fill="#c5060f"/>
<rect x="1003.3" y="1511.23" width="9.9" height="11.2" fill="#e80820"/>
<rect x="1014.0" y="1511.23" width="9.2" height="11.2" fill="#4bba8d"/>
<rect x="1040.2" y="1511.23" width="26.4" height="11.2" fill="#ef87a8"/>
<rect x="1070.9" y="1511.23" width="26.4" height="11.2" fill="#6bb33c"/>
<rect x="1106.3" y="1511.23" width="13.1" height="11.2" fill="#5e0508"/>
<rect x="1135.9" y="1511.23" width="9.9" height="11.2" fill="#e80820"/>
<rect x="1148.2" y="1511.23" width="18.4" height="11.2" fill="#6a8023"/>
<path d="M864.0 1534.55H1116.5" stroke="#707074" stroke-width="1.9"/>
<rect x="890.1" y="1528.95" width="18.6" height="11.2" fill="#0d66ca"/>
<rect x="911.0" y="1528.95" width="18.4" height="11.2" fill="#858a70"/>
<rect x="933.8" y="1528.95" width="24.9" height="11.2" fill="#fba21b"/>
<rect x="972.5" y="1528.95" width="9.9" height="11.2" fill="#e80820"/>
<rect x="997.2" y="1528.95" width="32.7" height="11.2" fill="#cf5a31"/>
<rect x="1033.4" y="1528.95" width="18.4" height="11.2" fill="#858a70"/>
<rect x="1064.2" y="1528.95" width="13.1" height="11.2" fill="#5e0508"/>
<rect x="1093.5" y="1528.95" width="9.9" height="11.2" fill="#e80820"/>
<path d="M864.0 1552.27H1087.6" stroke="#707074" stroke-width="1.9"/>
<rect x="870.7" y="1546.67" width="18.4" height="11.2" fill="#858a70"/>
<rect x="892.8" y="1546.67" width="24.9" height="11.2" fill="#fba21b"/>
<rect x="933.7" y="1546.67" width="9.9" height="11.2" fill="#e80820"/>
<rect x="959.0" y="1546.67" width="32.7" height="11.2" fill="#cf5a31"/>
<rect x="992.9" y="1546.67" width="33.2" height="11.2" fill="#f9b588"/>
<rect x="1026.8" y="1546.67" width="13.1" height="11.2" fill="#5e0508"/>
<rect x="1056.1" y="1546.67" width="9.9" height="11.2" fill="#e80820"/>
<path d="M864.0 1569.98H986.4" stroke="#707074" stroke-width="1.9"/>
<rect x="895.7" y="1564.38" width="33.2" height="11.2" fill="#f9b588"/>
<rect x="929.2" y="1564.38" width="13.1" height="11.2" fill="#5e0508"/>
<rect x="945.9" y="1564.38" width="9.2" height="11.2" fill="#938db5"/>
<rect x="958.3" y="1564.38" width="9.9" height="11.2" fill="#e80820"/>
<rect x="969.1" y="1564.38" width="9.2" height="11.2" fill="#4bba8d"/>
<path d="M864.0 1587.70H1104.2" stroke="#707074" stroke-width="1.9"/>
<rect x="866.6" y="1582.10" width="18.6" height="11.2" fill="#0d66ca"/>
<rect x="891.6" y="1582.10" width="18.4" height="11.2" fill="#858a70"/>
<rect x="911.7" y="1582.10" width="24.9" height="11.2" fill="#fba21b"/>
<rect x="940.3" y="1582.10" width="13.1" height="11.2" fill="#0a1243"/>
<rect x="954.3" y="1582.10" width="9.9" height="11.2" fill="#e80820"/>
<rect x="965.0" y="1582.10" width="9.2" height="11.2" fill="#4bba8d"/>
<rect x="979.3" y="1582.10" width="32.7" height="11.2" fill="#cf5a31"/>
<rect x="1013.2" y="1582.10" width="33.2" height="11.2" fill="#f9b588"/>
<rect x="1047.0" y="1582.10" width="13.1" height="11.2" fill="#5e0508"/>
<rect x="1063.5" y="1582.10" width="9.2" height="11.2" fill="#938db5"/>
<rect x="1076.1" y="1582.10" width="9.9" height="11.2" fill="#e80820"/>
<rect x="1086.9" y="1582.10" width="9.2" height="11.2" fill="#4bba8d"/>
<path d="M864.0 1605.42H1104.2" stroke="#707074" stroke-width="1.9"/>
<rect x="866.6" y="1599.82" width="18.6" height="11.2" fill="#0d66ca"/>
<rect x="891.6" y="1599.82" width="18.4" height="11.2" fill="#858a70"/>
<rect x="911.7" y="1599.82" width="24.9" height="11.2" fill="#fba21b"/>
<rect x="940.3" y="1599.82" width="13.1" height="11.2" fill="#0a1243"/>
<rect x="954.3" y="1599.82" width="9.9" height="11.2" fill="#e80820"/>
<rect x="965.0" y="1599.82" width="9.2" height="11.2" fill="#4bba8d"/>
<rect x="979.3" y="1599.82" width="32.7" height="11.2" fill="#cf5a31"/>
<rect x="1013.2" y="1599.82" width="33.2" height="11.2" fill="#f9b588"/>
<rect x="1047.0" y="1599.82" width="13.1" height="11.2" fill="#5e0508"/>
<rect x="1063.5" y="1599.82" width="9.2" height="11.2" fill="#938db5"/>
<rect x="1076.1" y="1599.82" width="9.9" height="11.2" fill="#e80820"/>
<rect x="1086.9" y="1599.82" width="9.2" height="11.2" fill="#4bba8d"/>
<path d="M864.0 1623.14H1104.2" stroke="#707074" stroke-width="1.9"/>
<rect x="866.6" y="1617.54" width="18.6" height="11.2" fill="#0d66ca"/>
<rect x="891.6" y="1617.54" width="18.4" height="11.2" fill="#858a70"/>
<rect x="911.7" y="1617.54" width="24.9" height="11.2" fill="#fba21b"/>
<rect x="940.3" y="1617.54" width="13.1" height="11.2" fill="#0a1243"/>
<rect x="954.3" y="1617.54" width="9.9" height="11.2" fill="#e80820"/>
<rect x="965.0" y="1617.54" width="9.2" height="11.2" fill="#4bba8d"/>
<rect x="979.3" y="1617.54" width="32.7" height="11.2" fill="#cf5a31"/>
<rect x="1013.2" y="1617.54" width="33.2" height="11.2" fill="#f9b588"/>
<rect x="1047.0" y="1617.54" width="13.1" height="11.2" fill="#5e0508"/>
<rect x="1063.5" y="1617.54" width="9.2" height="11.2" fill="#938db5"/>
<rect x="1076.1" y="1617.54" width="9.9" height="11.2" fill="#e80820"/>
<rect x="1086.9" y="1617.54" width="9.2" height="11.2" fill="#4bba8d"/>
<path d="M864.0 1640.86H1104.2" stroke="#707074" stroke-width="1.9"/>
<rect x="866.6" y="1635.26" width="18.6" height="11.2" fill="#0d66ca"/>
<rect x="891.6" y="1635.26" width="18.4" height="11.2" fill="#858a70"/>
<rect x="911.7" y="1635.26" width="24.9" height="11.2" fill="#fba21b"/>
<rect x="940.3" y="1635.26" width="13.1" height="11.2" fill="#0a1243"/>
<rect x="954.3" y="1635.26" width="9.9" height="11.2" fill="#e80820"/>
<rect x="965.0" y="1635.26" width="9.2" height="11.2" fill="#4bba8d"/>
<rect x="979.3" y="1635.26" width="32.7" height="11.2" fill="#cf5a31"/>
<rect x="1013.2" y="1635.26" width="33.2" height="11.2" fill="#f9b588"/>
<rect x="1047.0" y="1635.26" width="13.1" height="11.2" fill="#5e0508"/>
<rect x="1063.5" y="1635.26" width="9.2" height="11.2" fill="#938db5"/>
<rect x="1076.1" y="1635.26" width="9.9" height="11.2" fill="#e80820"/>
<rect x="1086.9" y="1635.26" width="9.2" height="11.2" fill="#4bba8d"/>
<path d="M864.0 1658.58H1085.9" stroke="#707074" stroke-width="1.9"/>
<rect x="866.6" y="1652.98" width="18.6" height="11.2" fill="#0d66ca"/>
<rect x="891.6" y="1652.98" width="18.4" height="11.2" fill="#858a70"/>
<rect x="911.7" y="1652.98" width="24.9" height="11.2" fill="#fba21b"/>
<rect x="940.3" y="1652.98" width="13.1" height="11.2" fill="#0a1243"/>
<rect x="960.4" y="1652.98" width="32.7" height="11.2" fill="#cf5a31"/>
<rect x="994.6" y="1652.98" width="33.2" height="11.2" fill="#f9b588"/>
<rect x="1028.1" y="1652.98" width="13.1" height="11.2" fill="#5e0508"/>
<rect x="1044.7" y="1652.98" width="9.2" height="11.2" fill="#938db5"/>
<rect x="1057.4" y="1652.98" width="9.9" height="11.2" fill="#e80820"/>
<rect x="1068.0" y="1652.98" width="9.2" height="11.2" fill="#4bba8d"/>
<path d="M864.0 1676.29H1085.9" stroke="#707074" stroke-width="1.9"/>
<rect x="866.6" y="1670.69" width="18.6" height="11.2" fill="#0d66ca"/>
<rect x="891.6" y="1670.69" width="18.4" height="11.2" fill="#858a70"/>
<rect x="911.7" y="1670.69" width="24.9" height="11.2" fill="#fba21b"/>
<rect x="940.3" y="1670.69" width="13.1" height="11.2" fill="#0a1243"/>
<rect x="960.4" y="1670.69" width="32.7" height="11.2" fill="#cf5a31"/>
<rect x="994.6" y="1670.69" width="33.2" height="11.2" fill="#f9b588"/>
<rect x="1028.1" y="1670.69" width="13.1" height="11.2" fill="#5e0508"/>
<rect x="1044.7" y="1670.69" width="9.2" height="11.2" fill="#938db5"/>
<rect x="1057.4" y="1670.69" width="9.9" height="11.2" fill="#e80820"/>
<rect x="1068.0" y="1670.69" width="9.2" height="11.2" fill="#4bba8d"/>
<path d="M864.0 1694.01H1089.6" stroke="#707074" stroke-width="1.9"/>
<rect x="866.6" y="1688.41" width="18.6" height="11.2" fill="#0d66ca"/>
<rect x="891.6" y="1688.41" width="18.4" height="11.2" fill="#858a70"/>
<rect x="911.7" y="1688.41" width="24.9" height="11.2" fill="#fba21b"/>
<rect x="940.3" y="1688.41" width="13.1" height="11.2" fill="#0a1243"/>
<rect x="964.5" y="1688.41" width="32.7" height="11.2" fill="#cf5a31"/>
<rect x="998.3" y="1688.41" width="33.2" height="11.2" fill="#f9b588"/>
<rect x="1032.1" y="1688.41" width="13.1" height="11.2" fill="#5e0508"/>
<rect x="1048.7" y="1688.41" width="9.2" height="11.2" fill="#938db5"/>
<rect x="1061.5" y="1688.41" width="9.9" height="11.2" fill="#e80820"/>
<rect x="1072.1" y="1688.41" width="9.2" height="11.2" fill="#4bba8d"/>
<path d="M864.0 1711.73H1104.2" stroke="#707074" stroke-width="1.9"/>
<rect x="866.6" y="1706.13" width="18.6" height="11.2" fill="#0d66ca"/>
<rect x="891.6" y="1706.13" width="18.4" height="11.2" fill="#858a70"/>
<rect x="911.7" y="1706.13" width="24.9" height="11.2" fill="#fba21b"/>
<rect x="940.3" y="1706.13" width="13.1" height="11.2" fill="#0a1243"/>
<rect x="954.3" y="1706.13" width="9.9" height="11.2" fill="#e80820"/>
<rect x="965.0" y="1706.13" width="9.2" height="11.2" fill="#4bba8d"/>
<rect x="979.3" y="1706.13" width="32.7" height="11.2" fill="#cf5a31"/>
<rect x="1013.2" y="1706.13" width="33.2" height="11.2" fill="#f9b588"/>
<rect x="1047.0" y="1706.13" width="13.1" height="11.2" fill="#5e0508"/>
<rect x="1063.5" y="1706.13" width="9.2" height="11.2" fill="#938db5"/>
<rect x="1076.1" y="1706.13" width="9.9" height="11.2" fill="#e80820"/>
<rect x="1086.9" y="1706.13" width="9.2" height="11.2" fill="#4bba8d"/>
<path d="M864.0 1729.45H1104.2" stroke="#707074" stroke-width="1.9"/>
<rect x="866.6" y="1723.85" width="18.6" height="11.2" fill="#0d66ca"/>
<rect x="891.6" y="1723.85" width="18.4" height="11.2" fill="#858a70"/>
<rect x="911.7" y="1723.85" width="24.9" height="11.2" fill="#fba21b"/>
<rect x="940.3" y="1723.85" width="13.1" height="11.2" fill="#0a1243"/>
<rect x="954.3" y="1723.85" width="9.9" height="11.2" fill="#e80820"/>
<rect x="965.0" y="1723.85" width="9.2" height="11.2" fill="#4bba8d"/>
<rect x="979.3" y="1723.85" width="32.7" height="11.2" fill="#cf5a31"/>
<rect x="1013.2" y="1723.85" width="33.2" height="11.2" fill="#f9b588"/>
<rect x="1047.0" y="1723.85" width="13.1" height="11.2" fill="#5e0508"/>
<rect x="1063.5" y="1723.85" width="9.2" height="11.2" fill="#938db5"/>
<rect x="1076.1" y="1723.85" width="9.9" height="11.2" fill="#e80820"/>
<rect x="1086.9" y="1723.85" width="9.2" height="11.2" fill="#4bba8d"/>
</g>
<g font-size="19.9" fill="#333">
<rect x="1228.8" y="72.3" width="21.7" height="18.3" fill="#0e867a"/>
<text x="1252.4" y="83.7" textLength="61.5" lengthAdjust="spacingAndGlyphs">Motif 4</text>
<rect x="1228.8" y="95.2" width="21.7" height="18.3" fill="#5c3d8d"/>
<text x="1252.4" y="106.6" textLength="61.5" lengthAdjust="spacingAndGlyphs">Motif 9</text>
<rect x="1228.8" y="118.1" width="21.7" height="18.3" fill="#938db5"/>
<text x="1252.4" y="129.5" textLength="61.5" lengthAdjust="spacingAndGlyphs">Motif 6</text>
<rect x="1228.8" y="141.0" width="21.7" height="18.3" fill="#a9d57e"/>
<text x="1252.4" y="152.4" textLength="61.5" lengthAdjust="spacingAndGlyphs">Motif 7</text>
<rect x="1228.8" y="163.8" width="21.7" height="18.3" fill="#6bb33c"/>
<text x="1252.4" y="175.2" textLength="61.5" lengthAdjust="spacingAndGlyphs">Motif 1</text>
<rect x="1228.8" y="186.7" width="21.7" height="18.3" fill="#fecb0e"/>
<text x="1252.4" y="198.1" textLength="61.5" lengthAdjust="spacingAndGlyphs">Motif 2</text>
<rect x="1228.8" y="209.6" width="21.7" height="18.3" fill="#f0577d"/>
<text x="1252.4" y="221.0" textLength="61.5" lengthAdjust="spacingAndGlyphs">Motif 3</text>
<rect x="1228.8" y="232.5" width="21.7" height="18.3" fill="#e80820"/>
<text x="1252.4" y="243.9" textLength="61.5" lengthAdjust="spacingAndGlyphs">Motif 5</text>
<rect x="1228.8" y="255.4" width="21.7" height="18.3" fill="#4bba8d"/>
<text x="1252.4" y="266.8" textLength="73.0" lengthAdjust="spacingAndGlyphs">Motif 13</text>
<rect x="1228.8" y="278.3" width="21.7" height="18.3" fill="#0d66ca"/>
<text x="1252.4" y="289.7" textLength="73.0" lengthAdjust="spacingAndGlyphs">Motif 15</text>
<rect x="1228.8" y="301.1" width="21.7" height="18.3" fill="#b07a45"/>
<text x="1252.4" y="312.5" textLength="73.0" lengthAdjust="spacingAndGlyphs">Motif 20</text>
<rect x="1228.8" y="324.0" width="21.7" height="18.3" fill="#858a70"/>
<text x="1252.4" y="335.4" textLength="73.0" lengthAdjust="spacingAndGlyphs">Motif 11</text>
<rect x="1228.8" y="346.9" width="21.7" height="18.3" fill="#5e0508"/>
<text x="1252.4" y="358.3" textLength="73.0" lengthAdjust="spacingAndGlyphs">Motif 17</text>
<rect x="1228.8" y="369.8" width="21.7" height="18.3" fill="#6a8023"/>
<text x="1252.4" y="381.2" textLength="73.0" lengthAdjust="spacingAndGlyphs">Motif 18</text>
<rect x="1228.8" y="392.7" width="21.7" height="18.3" fill="#fba21b"/>
<text x="1252.4" y="404.1" textLength="61.5" lengthAdjust="spacingAndGlyphs">Motif 8</text>
<rect x="1228.8" y="415.6" width="21.7" height="18.3" fill="#ef87a8"/>
<text x="1252.4" y="427.0" textLength="73.0" lengthAdjust="spacingAndGlyphs">Motif 14</text>
<rect x="1228.8" y="438.4" width="21.7" height="18.3" fill="#c5060f"/>
<text x="1252.4" y="449.8" textLength="73.0" lengthAdjust="spacingAndGlyphs">Motif 16</text>
<rect x="1228.8" y="461.3" width="21.7" height="18.3" fill="#cf5a31"/>
<text x="1252.4" y="472.7" textLength="73.0" lengthAdjust="spacingAndGlyphs">Motif 12</text>
<rect x="1228.8" y="484.2" width="21.7" height="18.3" fill="#f9b588"/>
<text x="1252.4" y="495.6" textLength="73.0" lengthAdjust="spacingAndGlyphs">Motif 10</text>
<rect x="1228.8" y="507.1" width="21.7" height="18.3" fill="#0a1243"/>
<text x="1252.4" y="518.5" textLength="73.0" lengthAdjust="spacingAndGlyphs">Motif 19</text>
</g>
<path d="M864.4 1747.0H1332.8M864.4 1747.0v6.2M931.3 1747.0v6.2M998.2 1747.0v6.2M1065.1 1747.0v6.2M1132.1 1747.0v6.2M1199.0 1747.0v6.2M1265.9 1747.0v6.2M1332.8 1747.0v6.2" fill="none" stroke="#7a7a7a" stroke-width="1.7"/>
<g font-size="17.9" fill="#111" text-anchor="middle">
<text x="865.4" y="1769.4">0</text>
<text x="932.3" y="1769.4">100</text>
<text x="999.2" y="1769.4">200</text>
<text x="1066.1" y="1769.4">300</text>
<text x="1133.1" y="1769.4">400</text>
<text x="1200.0" y="1769.4">500</text>
<text x="1266.9" y="1769.4">600</text>
<text x="1333.8" y="1769.4">700</text>
</g>
</svg></body></html>
